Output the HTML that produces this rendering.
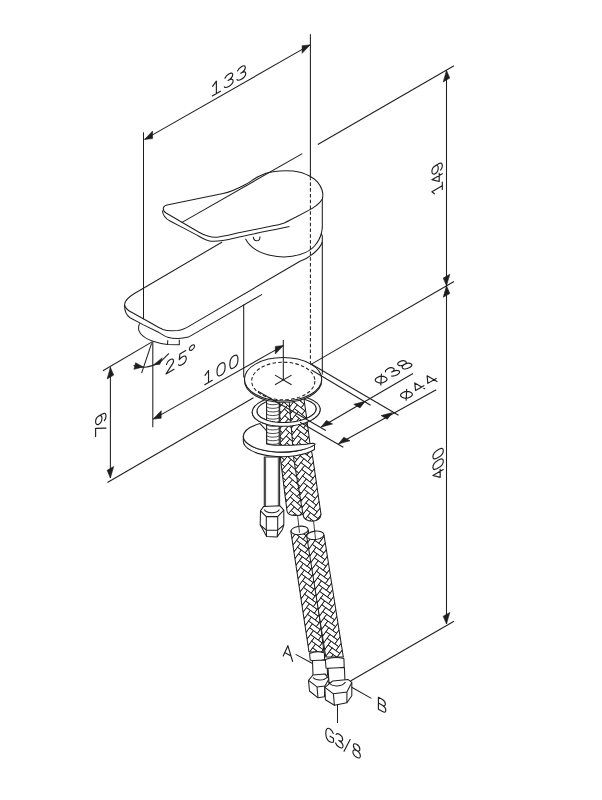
<!DOCTYPE html>
<html><head><meta charset="utf-8"><style>
html,body{margin:0;padding:0;background:#fff;}
svg{display:block;}
line,polyline,path,ellipse,circle,rect,polygon{fill:none;stroke:#1e1e1e;stroke-width:1.05;stroke-linecap:butt;stroke-linejoin:round;}
.th{stroke-width:1.3;}
.ah{fill:#1e1e1e;stroke:#1e1e1e;stroke-width:0.6;}
.da{stroke-dasharray:3.56 2.2;stroke-width:1.05;}
.gl{vector-effect:non-scaling-stroke;stroke-linecap:round;}
.wf{fill:#fff;}
.br{stroke-width:0.8;}
</style></head><body>
<svg width="602" height="800" viewBox="0 0 602 800">
<defs><clipPath id="hc1"><path d="M279.50,399.00 L280.60,460.00 L287.00,511.00 C287.50,517.00 304.50,517.00 305.00,511.00 L305.00,511.00 L298.60,460.00 L297.00,399.00 Z"/></clipPath><clipPath id="hc2"><path d="M289.00,399.00 L291.50,430.00 L293.90,460.00 L303.00,514.40 C303.50,523.40 320.50,523.40 321.00,514.40 L321.00,514.40 L312.50,456.00 L310.00,444.00 L306.50,417.00 L304.00,399.00 Z"/></clipPath><clipPath id="hc3"><path d="M290.80,531.00 L309.00,652.00 C309.50,652.00 323.50,652.00 324.00,652.00 L324.00,652.00 L308.30,530.00 Z"/></clipPath><clipPath id="hc4"><path d="M306.50,535.00 L325.80,657.00 C326.30,657.00 342.80,657.00 343.30,657.00 L343.30,657.00 L324.00,535.00 Z"/></clipPath></defs>
<ellipse cx="286.2" cy="410.8" rx="34" ry="15.4" transform="rotate(-3 286.2 410.8)"/>
<ellipse cx="286.6" cy="410.0" rx="29.7" ry="12.4" transform="rotate(-3 286.6 410)"/>
<rect class="wf" x="266.6" y="399" width="12.6" height="48"/>
<path d="M266.6,403.50 C269.5,405.20 276.3,405.20 279.2,403.50 M266.6,407.10 C269.5,408.80 276.3,408.80 279.2,407.10 M266.6,410.70 C269.5,412.40 276.3,412.40 279.2,410.70 M266.6,414.30 C269.5,416.00 276.3,416.00 279.2,414.30 M266.6,417.90 C269.5,419.60 276.3,419.60 279.2,417.90 M266.6,421.50 C269.5,423.20 276.3,423.20 279.2,421.50 M266.6,425.10 C269.5,426.80 276.3,426.80 279.2,425.10 M266.6,428.70 C269.5,430.40 276.3,430.40 279.2,428.70 M266.6,432.30 C269.5,434.00 276.3,434.00 279.2,432.30 M266.6,435.90 C269.5,437.60 276.3,437.60 279.2,435.90 M266.6,439.50 C269.5,441.20 276.3,441.20 279.2,439.50 M266.6,443.10 C269.5,444.80 276.3,444.80 279.2,443.10" class="br"/>
<path d="M279.50,399.00 L280.60,460.00 L287.00,511.00 C287.50,517.00 304.50,517.00 305.00,511.00 L305.00,511.00 L298.60,460.00 L297.00,399.00 Z" style="fill:#fff;stroke:none"/><g clip-path="url(#hc1)"><path d="M301.5,513.2L307.9,506M284.4,510.9L287.5,507.3M288.4,469.8L295.7,476.2M307.8,454.9L311,451.3M274,457.2L281.2,463.5M283,439.6L289.3,432.4M302.9,482.5L306,478.9M288.4,469.8L291.6,466.2M290.2,445.9L297.5,452.2M297,496.5L303.3,489.2M297.9,510L301.5,513.2M284.8,517.7L288,514.1M306.5,485.6L313.7,492M297.5,452.2L303.8,445M292.9,435.5L299.3,428.3M302,468.9L305.1,465.3M306,427.8L309.6,431M294.3,404.8L300.6,397.6M277.1,402.6L280.7,405.7M288,463.1L295.2,469.4M285.3,473.5L291.6,466.2M273.1,443.7L280.3,450M287.5,456.3L291.1,459.5M285.3,422.4L288.4,418.8M298.4,516.8L301.5,513.2M286.2,436L289.8,439.1M285.7,480.2L292,473M298.8,421.5L306,427.8M275.8,484.3L279,480.7M286.6,442.7L290.2,445.9M272.2,430.1L275.8,433.3M285.3,422.4L292.5,428.7M270.8,409.8L278,416.1M304.2,400.7L307.8,403.9M299.3,428.3L302.4,424.7M283.9,504.2L287.5,507.3M297.4,401.2L300.6,397.6M294.7,411.6L301.1,404.4M304.2,502.8L307.9,506M305.1,414.3L308.3,410.7M295.6,425.1L302,417.9M301.1,506.4L307.4,499.2M289.3,432.4L296.6,438.7M304.7,509.6L308.3,512.7M297.5,503.2L303.8,496M300.6,448.6L304.2,451.8M284.8,415.7L288.4,418.8M287.5,405.3L294.7,411.6M299.7,486.1L306,478.9M288.9,425.6L296.1,431.9M299.7,435.1L302.9,431.5M308.8,468.5L311.9,464.9M271.3,416.6L278.5,422.9M278,416.1L281.2,412.5M289.8,490.2L293.4,493.3M290.7,503.7L293.9,500.1M294.3,455.8L297.9,459M282.1,477.1L285.3,473.5M279.8,443.2L286.2,436M301.5,462.2L305.1,465.3M293,486.5L300.2,492.9M302.9,431.5L310.1,437.8M293.8,449.1L300.2,441.8M295.2,469.4L298.8,472.5M271.7,525.4L278.1,518.2M298.4,516.8L304.7,509.6M275.3,477.5L279,480.7M273.1,494.7L279.4,487.5M283.4,395.3L287.1,398.5M298.8,421.5L302,417.9M270.4,403L277.6,409.3M307.8,454.9L314.2,447.7M276.2,491.1L283.5,497.4M272.6,436.9L279.8,443.2M281.2,463.5L287.5,456.3M296.1,482.9L299.7,486.1M274.4,464L277.6,460.4M290.2,394.9L293.4,391.3M294.3,506.9L301.5,513.2M287.1,449.5L294.3,455.8M304.7,407.5L308.3,410.7M293.4,442.3L299.7,435.1M295.7,476.2L302,468.9M299.7,435.1L303.3,438.2M298.8,523.6L305.2,516.3M273.5,450.4L277.1,453.6M302,520L308.3,512.7M274.9,470.7L278.5,473.9M284.8,517.7L288.5,520.9M304.2,400.7L307.4,397.1M300.2,492.9L306.5,485.6M288.4,418.8L295.6,425.1M296.6,489.7L300.2,492.9M278.1,518.2L285.3,524.5M291.1,408.4L294.7,411.6M296.6,438.7L302.9,431.5M300.2,390.8L307.4,397.1M273.5,501.5L279.9,494.2M306,427.8L309.2,424.2M293.8,398L300.2,390.8M302.4,475.7L306,478.9M278.5,422.9L281.6,419.3M279.8,443.2L283.5,446.4M284.4,408.9L291.6,415.2M280.7,405.7L287.1,398.5M300.6,448.6L307.8,454.9M291.6,517.2L298.8,523.6M276.7,446.8L283.9,453.1M276.2,491.1L279.4,487.5M305.2,516.3L308.3,512.7M308.3,461.7L311.9,464.9M274.9,470.7L278,467.1M298.4,516.8L302,520M283,490.6L289.3,483.4M288,514.1L294.3,506.9M283.5,446.4L289.8,439.1M306,478.9L313.3,485.2M274,457.2L277.6,460.4M291.6,517.2L294.8,513.6M275.3,477.5L278.5,473.9M289.3,483.4L296.6,489.7M298.4,465.8L304.7,458.5M279.9,494.2L287.1,500.5M278,416.1L281.6,419.3M292,422L295.6,425.1M272.2,430.1L275.3,426.5M286.2,436L293.4,442.3M298.4,414.7L302,417.9M278.5,422.9L282.1,426M277.6,409.3L280.7,405.7M278.9,429.7L285.3,422.4M278,416.1L284.4,408.9M302.9,482.5L310.1,488.8M300.6,448.6L303.8,445M280.3,450L283.5,446.4M304.2,502.8L307.4,499.2M293.4,442.3L297,445.5M295.7,476.2L298.8,472.5M304.7,509.6L307.9,506M286.2,487L292.5,479.8M280.3,450L286.6,442.7M291.2,510.5L294.3,506.9M276.7,497.8L279.9,494.2M301.5,462.2L304.7,458.5M290.7,401.7L293.8,398M297.9,510L301.1,506.4M283.4,395.3L290.7,401.7M307.4,448.2L311,451.3M277.6,511.4L280.8,507.8M283,490.6L286.6,493.8M293.9,500.1L301.1,506.4M291.6,415.2L297.9,408M282.1,477.1L288.4,469.8M291.2,510.5L294.8,513.6M273.5,450.4L276.7,446.8M283.4,395.3L286.6,391.7M284.4,408.9L288,412M273.5,450.4L280.8,456.7M291.6,517.2L295.2,520.4M281.6,419.3L288,412M277.1,402.6L280.3,398.9M298.4,414.7L301.5,411.1M297.4,401.2L301.1,404.4M282.1,426L288.4,418.8M276.7,395.8L280.3,398.9M280.8,456.7L284.4,459.9M302,468.9L309.2,475.3M302.4,475.7L305.6,472.1M297.9,510L304.2,502.8M288.4,469.8L292,473M302.4,424.7L309.6,431M274.9,521.8L281.2,514.5M274.4,464L278,467.1M292.5,479.8L299.7,486.1M300.2,441.8L307.4,448.2M297.5,503.2L300.6,499.6M301.5,462.2L308.8,468.5M273.5,399.4L280.7,405.7M294.8,462.6L298.4,465.8M297.9,459L304.2,451.8M283.9,504.2L290.2,496.9M275.8,484.3L279.4,487.5M292.5,428.7L296.1,431.9M277.2,504.6L280.3,501M287.1,500.5L293.4,493.3M284.8,415.7L288,412M287.1,449.5L290.7,452.7M294.8,462.6L301.1,455.4M275.3,426.5L282.6,432.8M306.5,434.6L312.8,427.4M305.6,421.1L308.7,417.5M300.6,397.6L307.8,403.9M279.4,487.5L286.6,493.8M290.2,496.9L297.5,503.2M308.8,468.5L312.4,471.6M289.8,439.1L297,445.5M293.8,449.1L297.5,452.2M301.1,455.4L304.7,458.5M289.8,490.2L297,496.5M308.3,461.7L311.5,458.1M276.7,497.8L280.3,501M292.5,428.7L295.6,425.1M281.2,514.5L288.5,520.9M274.5,515L280.8,507.8M296.1,482.9L302.4,475.7M278.9,429.7L282.1,426M288.5,520.9L294.8,513.6M281.2,463.5L284.4,459.9M279.8,443.2L283,439.6M291.1,408.4L297.4,401.2M284.8,517.7L291.2,510.5M272.2,430.1L279.4,436.4M274,508.2L280.3,501M302,468.9L305.6,472.1M288.9,476.6L296.1,482.9M295.2,418.4L301.5,411.1M303.3,489.2L310.6,495.6M304.2,451.8L311.5,458.1M291.6,415.2L295.2,418.4M283.5,497.4L287.1,500.5M283.5,497.4L286.6,493.8M290.2,496.9L293.9,500.1M288,463.1L291.6,466.2M307.8,454.9L311.5,458.1M271.7,474.4L278,467.1M285.3,422.4L288.9,425.6M282.6,432.8L288.9,425.6M277.1,453.6L284.4,459.9M276.7,395.8L279.8,392.2M286.6,442.7L289.8,439.1M295.2,469.4L298.4,465.8M277.6,511.4L284.8,517.7M303.8,496L311,502.3M295.7,476.2L299.3,479.3M277.1,402.6L283.4,395.3M273.1,443.7L276.2,440M275.8,484.3L283,490.6M280.3,398.9L286.6,391.7M307.4,397.1L313.7,389.9M300.2,441.8L303.8,445M275.3,477.5L282.6,483.8M290.7,452.7L297.9,459M280.8,507.8L288,514.1M286.6,442.7L293.8,449.1M272.6,436.9L276.2,440M291.1,408.4L294.3,404.8M281.2,412.5L287.5,405.3M284.8,466.7L291.1,459.5M287.5,507.3L293.9,500.1M301.1,404.4L308.3,410.7M297,445.5L303.3,438.2M279.4,436.4L285.7,429.2M287.1,398.5L294.3,404.8M289.3,483.4L292.5,479.8M292,473L299.3,479.3M291.1,459.5L298.4,465.8M293.4,442.3L296.6,438.7M279.4,436.4L282.6,432.8M277.2,504.6L280.8,507.8M277.6,409.3L283.9,402.1M292.9,435.5L296.1,431.9M304.7,509.6L311.9,515.9M278.5,473.9L285.7,480.2M287.5,456.3L290.7,452.7M306.5,434.6L309.6,431M307.4,448.2L313.7,440.9M298.8,472.5L305.1,465.3M285.7,429.2L292.9,435.5M291.6,415.2L294.7,411.6M303.8,445L311,451.3M292,422L298.4,414.7M282.6,483.8L286.2,487M300.6,499.6L307,492.4M307.4,448.2L310.6,444.5M299.7,435.1L306.9,441.4M280.3,501L287.5,507.3M272.6,436.9L275.8,433.3M293.4,493.3L300.6,499.6M297.9,408L305.1,414.3M279,480.7L286.2,487M270.8,460.8L277.1,453.6M303.8,496L307.4,499.2M297.4,401.2L304.7,407.5M278.9,429.7L282.6,432.8M304.2,400.7L310.5,393.5M285.7,429.2L289.3,432.4M305.1,414.3L311.4,407.1M271.3,467.6L277.6,460.4M307.4,499.2L314.6,505.5M272.6,487.9L279,480.7M274.9,419.7L282.1,426M278.5,422.9L284.8,415.7M302,417.9L309.2,424.2M283.9,504.2L287.1,500.5M289.3,483.4L293,486.5M296.6,489.7L302.9,482.5M290.7,503.7L297.9,510M306.9,441.4L310.6,444.5M272.2,481.1L278.5,473.9M278.1,518.2L281.2,514.5M285.7,429.2L288.9,425.6M309.2,475.3L312.8,478.4M290.2,496.9L293.4,493.3M303.3,489.2L306.5,485.6M282.1,477.1L285.7,480.2M284.8,415.7L292,422M280.8,456.7L287.1,449.5M297,394.4L304.2,400.7M285.3,524.5L288.5,520.9M281.7,470.3L285.3,473.5M283.9,402.1L291.1,408.4M274.4,464L281.7,470.3M284.4,459.9L290.7,452.7M306.9,441.4L310.1,437.8M279.4,436.4L283,439.6M294.3,455.8L297.5,452.2M306.9,441.4L313.3,434.2M277.2,504.6L284.4,510.9M304.7,407.5L311,400.3M280.8,456.7L283.9,453.1M283,490.6L286.2,487M297.9,408L301.1,404.4M297,496.5L300.6,499.6M300.2,441.8L303.3,438.2M301.1,455.4L304.2,451.8M305.1,414.3L308.7,417.5M305.6,421.1L311.9,413.8M299.3,428.3L306.5,434.6M288.9,476.6L292,473M292.1,524L295.2,520.4M274.9,470.7L282.1,477.1M305.2,516.3L308.8,519.5M288,463.1L291.1,459.5M305.6,523.1L308.8,519.5M303.3,438.2L310.6,444.5M297,496.5L300.2,492.9M270.4,505.1L276.7,497.8M301.1,455.4L308.3,461.7M294.8,462.6L297.9,459M292.9,435.5L296.6,438.7M277.6,409.3L281.2,412.5M271.7,423.3L278.9,429.7M307.8,403.9L314.2,396.7M274,457.2L277.1,453.6M273.1,443.7L276.7,446.8M296.1,482.9L299.3,479.3M286.2,436L289.3,432.4M270.4,454L276.7,446.8M274,406.2L281.2,412.5M273.1,392.6L280.3,398.9M304.7,458.5L311.9,464.9M291.6,466.2L298.8,472.5M284.4,510.9L290.7,503.7M293.8,449.1L297,445.5M282.6,483.8L285.7,480.2M290.7,503.7L294.3,506.9M271.3,518.6L277.6,511.4M281.7,470.3L284.8,466.7M270.8,511.8L277.2,504.6M286.6,391.7L293.8,398M283.9,402.1L287.1,398.5M305.6,421.1L309.2,424.2M290.7,401.7L297,394.4M301.5,411.1L308.7,417.5M298.8,421.5L302.4,424.7M298.4,414.7L305.6,421.1M289.8,490.2L293,486.5M298.8,523.6L302,520M303.8,394L307.4,397.1M280.3,450L283.9,453.1M305.1,465.3L312.4,471.6M291.2,510.5L298.4,516.8M277.6,460.4L284.8,466.7M286.6,493.8L293,486.5M284.4,510.9L288,514.1M299.3,479.3L305.6,472.1M287.1,449.5L290.2,445.9M278,467.1L285.3,473.5M283.9,402.1L287.5,405.3M309.2,475.3L312.4,471.6M283.5,497.4L289.8,490.2M303.3,489.2L307,492.4M287.5,456.3L294.8,462.6M276.7,497.8L283.9,504.2M282.6,483.8L288.9,476.6M278.1,518.2L281.7,521.3M295.2,469.4L301.5,462.2M307,492.4L314.2,498.7M297,394.4L300.6,397.6M296.1,431.9L302.4,424.7M306.5,434.6L310.1,437.8M276.2,440L283.5,446.4M281.2,463.5L284.8,466.7M305.2,516.3L312.4,522.7M285.3,524.5L291.6,517.2M305.6,472.1L312.8,478.4M277.6,511.4L281.2,514.5M304.2,502.8L311.5,509.1M297.5,503.2L301.1,506.4M302.4,475.7L309.7,482M299.3,428.3L302.9,431.5M284.4,408.9L287.5,405.3M275.8,433.3L283,439.6M276.2,491.1L279.9,494.2M290.2,394.9L293.8,398M292.5,428.7L298.8,421.5M297.9,408L301.5,411.1M290.7,401.7L294.3,404.8M288.9,476.6L292.5,479.8M288,412L295.2,418.4M294.8,513.6L302,520M292,422L295.2,418.4M303.8,496L307,492.4M296.6,489.7L299.7,486.1M294.3,455.8L300.6,448.6M304.7,407.5L307.8,403.9M271.7,423.3L275.3,426.5M269.9,396.2L277.1,402.6M283.9,453.1L290.2,445.9M306,427.8L312.4,420.6M281.7,470.3L288,463.1M274.4,412.9L281.6,419.3M302.9,482.5L306.5,485.6" style="stroke-width:0.85"/></g><path d="M279.50,399.00 L280.60,460.00 L287.00,511.00 C287.50,517.00 304.50,517.00 305.00,511.00 L305.00,511.00 L298.60,460.00 L297.00,399.00 Z"/>
<path d="M289.00,399.00 L291.50,430.00 L293.90,460.00 L303.00,514.40 C303.50,523.40 320.50,523.40 321.00,514.40 L321.00,514.40 L312.50,456.00 L310.00,444.00 L306.50,417.00 L304.00,399.00 Z" style="fill:#fff;stroke:none"/><g clip-path="url(#hc2)"><path d="M282.3,478.4L288.3,470.9M324.6,432.3L328.4,435.3M303.1,452L310.6,457.9M315,522.3L318.8,525.3M284.5,467.9L290.4,460.4M312.3,471.4L318.2,463.8M280.1,403.5L287.6,409.4M311.7,495.4L314.7,491.6M317.9,433.1L320.8,429.3M323.8,425.6L326.7,421.8M290.1,429.6L296,422.1M298,466.3L303.9,458.7M291.2,467.1L298.8,473M297.1,459.6L303.1,452M294,518.1L296.9,514.3M283.9,406.5L291.4,412.4M315.8,529.1L321.8,521.5M314.6,406.2L320.5,398.6M307,400.2L314.6,406.2M283.5,515.9L291,521.8M307.7,461.7L311.4,464.7M292.5,449.9L296.3,452.8M302.8,421.3L308.7,413.7M294.8,524.8L297.8,521M297.4,490.3L300.4,486.5M310.1,481.9L313.1,478.1M319.7,391.9L327.3,397.8M289.3,422.9L293.1,425.9M296,422.1L299,418.3M287.2,518.9L290.2,515.1M298.8,473L304.7,465.5M310.3,427.2L313.3,423.4M321.8,521.5L325.5,524.5M315,522.3L318,518.6M322,466.8L327.9,459.2M312.1,526.1L319.6,532M296.8,428.8L304.4,434.7M283.4,430.5L290.9,436.4M296.1,507.5L303.7,513.5M283.4,430.5L286.3,426.7M308.8,499.2L316.3,505.1M301.5,524L305.3,526.9M304.9,410.7L310.8,403.2M288.3,470.9L291.2,467.1M317.9,433.1L321.6,436.1M303.3,397.3L309.2,389.7M304.4,434.7L308.2,437.7M302.2,445.3L309.8,451.2M323.6,480.3L327.4,483.2M293.4,456.6L297.1,459.6M304.2,489.5L311.7,495.4M313,392.7L316.7,395.6M311.1,433.9L318.7,439.8M297.3,404.8L304.9,410.7M313.4,508.9L316.3,505.1M310.1,481.9L313.9,484.9M296.6,483.5L300.4,486.5M317.7,487.8L325.2,493.8M320.8,429.3L326.7,421.8M289.4,508.4L295.3,500.8M314.6,406.2L317.6,402.4M285.8,450.7L289.6,453.6M291.5,497.8L299.1,503.8M279.7,513L287.2,518.9M293.7,487.3L301.2,493.2M289.3,422.9L295.2,415.3M315.4,412.9L318.4,409.1M304.4,434.7L307.3,431M300.7,517.2L303.7,513.5M293.6,401.9L296.5,398.1M296,422.1L303.6,428M295.2,415.3L299,418.3M297.6,435.6L305.2,441.5M280.2,489L287.8,494.9M308.3,523.2L312.1,526.1M305.7,417.5L311.6,409.9M310.1,481.9L316,474.4M281.7,417L285.5,419.9M317,426.4L320,422.6M290.9,436.4L296.8,428.8M300.1,455.8L303.9,458.7M321.3,405.3L328.9,411.3M286,395.9L289,392.2M282,447.7L287.9,440.2M307.9,407L310.8,403.2M321.3,405.3L324.3,401.6M301.7,469.3L309.3,475.2M302.4,530.7L305.3,526.9M281,495.7L288.6,501.6M299.9,510.5L302.9,506.7M286.9,488.1L292.9,480.6M317.6,402.4L323.5,394.8M284.2,437.2L287.1,433.4M284.8,498.7L288.6,501.6M309.3,475.2L313.1,478.1M286,395.9L289.8,398.9M305.5,472.2L313.1,478.1M309.3,475.2L315.2,467.6M307,400.2L310.8,403.2M280.4,434.2L286.3,426.7M323.3,449.5L329.2,442M300.7,517.2L306.6,509.7M316.8,481.1L320.6,484.1M301.5,524L307.5,516.4M306,448.2L311.9,440.7M294,518.1L301.5,524M318.7,439.8L322.5,442.8M312.8,447.4L315.7,443.6M309.8,451.2L315.7,443.6M281.8,502.4L289.4,508.4M296.8,428.8L300.6,431.8M295.8,476.8L298.8,473M299.1,503.8L302,500M307.9,407L311.6,409.9M317.7,487.8L321.4,490.8M282.5,423.7L286.3,426.7M286.3,426.7L293.9,432.6M301.1,407.8L304.9,410.7M324.4,487L327.4,483.2M320.5,398.6L328.1,404.5M315.5,498.4L321.4,490.8M313.6,454.1L317.4,457.1M318.5,494.6L321.4,490.8M319.2,415.9L325.1,408.3M293.2,511.3L296.9,514.3M286.4,512.1L289.4,508.4M289.6,453.6L297.1,459.6M321.1,460.1L327.1,452.5M296.9,514.3L304.5,520.2M294.4,408.6L297.3,404.8M316,474.4L319,470.6M322,466.8L325.7,469.8M300.1,455.8L303.1,452M286.6,457.4L290.4,460.4M303.6,428L309.5,420.4M303.6,428L306.5,424.2M301.4,438.5L309,444.4M305,496.2L312.6,502.1M310.9,488.7L313.9,484.9M291.5,497.8L294.5,494.1M281.2,441L287.1,433.4M322.5,442.8L328.4,435.3M305.8,502.9L308.8,499.2M322.2,412.1L325.9,415M281.3,526.4L288.9,532.4M305.3,526.9L311.2,519.4M287.1,433.4L294.7,439.3M299.9,510.5L305.8,502.9M318.7,439.8L324.6,432.3M312.8,447.4L316.5,450.4M305.2,441.5L308.2,437.7M283,399.7L290.6,405.6M302.6,476L310.1,481.9M284,491.9L289.9,484.4M293.2,511.3L296.1,507.5M295.8,476.8L301.7,469.3M300.3,401L306.2,393.5M319.5,446.6L322.5,442.8M321.1,460.1L324.9,463M291.5,497.8L295.3,500.8M311.6,409.9L319.2,415.9M293.4,456.6L299.3,449M289.9,484.4L297.4,490.3M299.9,510.5L303.7,513.5M314.6,406.2L318.4,409.1M298.2,411.6L305.7,417.5M313.3,423.4L320.8,429.3M300.3,401L303.3,397.3M310.3,427.2L314.1,430.1M286.8,402.7L290.6,405.6M281.3,526.4L285.1,529.4M303.6,428L307.3,431M309.1,529.9L312.1,526.1M308.7,413.7L311.6,409.9M310,396.5L317.6,402.4M285.6,505.4L289.4,508.4M289.1,477.6L292,473.8M310.4,512.6L318,518.6M289.9,484.4L292.9,480.6M305.8,502.9L313.4,508.9M303.4,482.7L306.3,479M323.1,504.3L330.6,510.2M290.4,460.4L298,466.3M310.3,427.2L317.9,433.1M301.9,414.5L304.9,410.7M304.5,520.2L310.4,512.6M306.2,393.5L313.8,399.4M281.7,417L289.3,422.9M315.2,467.6L322.8,473.5M314.2,515.6L317.2,511.8M311.9,440.7L314.9,436.9M319.3,501.3L326.9,507.2M322.8,473.5L328.7,466M300.9,462.5L303.9,458.7M315.2,467.6L319,470.6M308.7,413.7L316.2,419.6M301.7,469.3L304.7,465.5M282.6,509.2L290.2,515.1M316.3,505.1L322.3,497.5M293.4,456.6L296.3,452.8M302.8,421.3L306.5,424.2M297.4,490.3L301.2,493.2M303.4,482.7L307.1,485.7M322.8,473.5L325.7,469.8M322,466.8L324.9,463M312.6,502.1L316.3,505.1M289.8,398.9L295.7,391.3M305.2,441.5L311.1,433.9M287.8,494.9L293.7,487.3M284,491.9L286.9,488.1M292.7,395.1L295.7,391.3M319,470.6L326.5,476.5M295.5,446.1L301.4,438.5M309,444.4L314.9,436.9M308.3,523.2L311.2,519.4M292.3,504.6L299.9,510.5M283.2,485.2L286.1,481.4M292.3,504.6L295.3,500.8M285.3,474.7L291.2,467.1M301.1,407.8L304.1,404M314.9,436.9L322.5,442.8M292.5,449.9L298.5,442.3M283.4,430.5L287.1,433.4M284.8,498.7L290.7,491.1M311.1,433.9L314.9,436.9M323.8,425.6L327.6,428.5M288.3,470.9L292,473.8M308.5,468.4L311.4,464.7M301.9,414.5L305.7,417.5M321.4,490.8L329,496.7M283.2,485.2L289.1,477.6M304.1,404L310,396.5M284.3,522.7L291.8,528.6M284.2,437.2L287.9,440.2M299,418.3L306.5,424.2M321.8,521.5L324.7,517.8M314.2,515.6L318,518.6M283.7,461.2L289.6,453.6M300.9,462.5L304.7,465.5M316,474.4L319.8,477.3M300.4,486.5L306.3,479M294.5,494.1L302,500M288.9,532.4L294.8,524.8M299.5,394.3L303.3,397.3M314.2,515.6L320.1,508.1M311.7,495.4L317.7,487.8M300.9,462.5L308.5,468.4M308.5,468.4L312.3,471.4M285.8,450.7L293.4,456.6M308.5,468.4L314.4,460.9M294,518.1L297.8,521M320.9,514.8L324.7,517.8M286.4,512.1L290.2,515.1M320.3,453.3L323.3,449.5M308.7,413.7L312.5,416.7M314.7,491.6L320.6,484.1M281.5,471.7L287.4,464.2M319.6,532L325.5,524.5M307.5,516.4L315,522.3M280.7,465L286.6,457.4M306,448.2L309,444.4M302.9,506.7L308.8,499.2M311.2,519.4L318.8,525.3M303.9,458.7L311.4,464.7M321.3,405.3L325.1,408.3M299.3,449L302.2,445.3M291.4,412.4L297.3,404.8M298.3,497L304.2,489.5M319.5,446.6L325.4,439M285.8,450.7L288.8,446.9M320,422.6L325.9,415M311.7,495.4L315.5,498.4M312.6,502.1L318.5,494.6M314.4,460.9L322,466.8M317,426.4L320.8,429.3M310.6,457.9L316.5,450.4M284.7,413.2L292.2,419.1M287.4,464.2L291.2,467.1M297.6,435.6L300.6,431.8M318.7,439.8L321.6,436.1M288.1,525.6L294,518.1M291.7,443.1L295.5,446.1M320.6,484.1L328.2,490M315.4,412.9L321.3,405.3M309.5,420.4L312.5,416.7M321.1,460.1L324.1,456.3M313.4,508.9L317.2,511.8M299.3,449L303.1,452M291,521.8L296.9,514.3M307.1,485.7L314.7,491.6M292.7,395.1L300.3,401M285,443.9L292.5,449.9M319.3,501.3L322.3,497.5M313.4,508.9L319.3,501.3M309.5,420.4L317,426.4M293.9,432.6L299.8,425M282.8,454.5L288.8,446.9M318.2,463.8L325.7,469.8M299.3,449L306.8,455M317.2,511.8L323.1,504.3M320.1,508.1L327.7,514M293.2,511.3L300.7,517.2M302,500L308,492.4M317.9,433.1L323.8,425.6M318,518.6L323.9,511M307.3,431L313.3,423.4M316.2,419.6L322.2,412.1M292.2,419.1L298.2,411.6M323.6,480.3L329.5,472.7M285.6,505.4L291.5,497.8M315.2,467.6L318.2,463.8M282.2,393L289.8,398.9M286.6,457.4L294.2,463.3M295.7,391.3L303.3,397.3M317,426.4L323,418.8M296.5,398.1L304.1,404M288.5,416.2L294.4,408.6M290.1,429.6L293.9,432.6M305.2,441.5L309,444.4M320.3,453.3L324.1,456.3M322.3,497.5L329.8,503.5M307.9,407L315.4,412.9M286.4,512.1L292.3,504.6M304.7,465.5L312.3,471.4M287.6,409.4L290.6,405.6M282.3,478.4L286.1,481.4M306.6,509.7L314.2,515.6M302.4,530.7L308.3,523.2M280.5,519.7L288.1,525.6M282.5,423.7L290.1,429.6M314.4,460.9L317.4,457.1M316.5,450.4L324.1,456.3M300.3,401L304.1,404M315.7,443.6L323.3,449.5M300.6,431.8L308.2,437.7M306.8,455L312.8,447.4M302.8,421.3L305.7,417.5M316,474.4L323.6,480.3M296,422.1L299.8,425M294.8,524.8L298.6,527.8M297.6,435.6L301.4,438.5M320.1,508.1L323.1,504.3M306.6,509.7L309.6,505.9M287.4,464.2L295,470.1M325.4,439L328.4,435.3M293.1,425.9L299,418.3M311.9,440.7L315.7,443.6M315.4,412.9L319.2,415.9M301.1,407.8L307,400.2M299.1,503.8L305,496.2M320.9,514.8L323.9,511M313.1,478.1L319,470.6M314.4,460.9L318.2,463.8M294.7,439.3L300.6,431.8M307.5,516.4L310.4,512.6M285,443.9L287.9,440.2M288.8,446.9L296.3,452.8M298.3,497L302,500M300.1,455.8L307.7,461.7M298.5,442.3L302.2,445.3M295.3,500.8L302.9,506.7M286.8,402.7L289.8,398.9M301.5,524L304.5,520.2M306.2,393.5L310,396.5M322.8,473.5L326.5,476.5M324.6,432.3L327.6,428.5M312.5,416.7L320,422.6M307.7,461.7L313.6,454.1M312.8,447.4L320.3,453.3M290.9,436.4L293.9,432.6M320.5,398.6L323.5,394.8M310.8,403.2L318.4,409.1M289.3,422.9L292.2,419.1M292.3,504.6L296.1,507.5M309.6,505.9L317.2,511.8M293.6,401.9L301.1,407.8M311.1,433.9L314.1,430.1M290.9,436.4L294.7,439.3M313.8,399.4L317.6,402.4M320.1,508.1L323.9,511M284,491.9L287.8,494.9M307.7,461.7L310.6,457.9M300.7,517.2L304.5,520.2M313.6,454.1L321.1,460.1M313.8,399.4L319.7,391.9M306.3,479L313.9,484.9M303.4,482.7L310.9,488.7M288.1,525.6L291.8,528.6M307.5,516.4L311.2,519.4M291.7,443.1L294.7,439.3M298.5,442.3L306,448.2M291.8,528.6L297.8,521M308.2,437.7L314.1,430.1M281.7,417L284.7,413.2M280.9,410.2L288.5,416.2M304.2,489.5L308,492.4M302.6,476L305.5,472.2M288.6,501.6L294.5,494.1M289.1,477.6L292.9,480.6M288.1,525.6L291,521.8M285.5,419.9L293.1,425.9M286.1,481.4L292,473.8M318.5,494.6L322.3,497.5M284.2,437.2L291.7,443.1M318.5,494.6L326,500.5M322.2,412.1L329.7,418M295,470.1L298,466.3M322.2,412.1L325.1,408.3M316.8,481.1L319.8,477.3M304.2,489.5L307.1,485.7M313.9,484.9L319.8,477.3M320.5,398.6L324.3,401.6M318.4,409.1L324.3,401.6M290.7,491.1L293.7,487.3M282.5,423.7L285.5,419.9M308.3,523.2L315.8,529.1M292.7,395.1L296.5,398.1M312.6,502.1L315.5,498.4M287.6,409.4L293.6,401.9M294.8,524.8L302.4,530.7M305,496.2L308,492.4M319.8,477.3L327.4,483.2M283.2,485.2L286.9,488.1M320.9,514.8L328.5,520.7M288.5,416.2L292.2,419.1M313.8,399.4L316.7,395.6M308,492.4L315.5,498.4M285,443.9L288.8,446.9M317.4,457.1L324.9,463M301.9,414.5L307.9,407M316.8,481.1L324.4,487M302.6,476L306.3,479M303.7,513.5L309.6,505.9M292,473.8L299.6,479.8M306.6,509.7L310.4,512.6M289.1,477.6L296.6,483.5M287.2,518.9L291,521.8M286.8,402.7L292.7,395.1M316.2,419.6L320,422.6M309.5,420.4L313.3,423.4M295.2,415.3L298.2,411.6M287.2,518.9L293.2,511.3M304.4,434.7L310.3,427.2M322.6,528.3L325.5,524.5M279.3,396.8L286.8,402.7M321.6,436.1L327.6,428.5M310.9,488.7L314.7,491.6M297.4,490.3L303.4,482.7M281.5,471.7L284.5,467.9M323,418.8L326.7,421.8M311.9,440.7L319.5,446.6M294.4,408.6L301.9,414.5M318.8,525.3L324.7,517.8M290.7,491.1L294.5,494.1M294.2,463.3L298,466.3M323,418.8L330.5,424.7M301.2,493.2L307.1,485.7M310.9,488.7L316.8,481.1M287.4,464.2L290.4,460.4M323.6,480.3L326.5,476.5M299.1,503.8L302.9,506.7M290.6,405.6L296.5,398.1M319.7,391.9L323.5,394.8M284.8,498.7L287.8,494.9M320.3,453.3L326.2,445.8M293.6,401.9L297.3,404.8M309.3,475.2L312.3,471.4M296.6,483.5L299.6,479.8M298.5,442.3L301.4,438.5M290.1,429.6L293.1,425.9M287.6,409.4L291.4,412.4M288.5,416.2L291.4,412.4M325.2,493.8L328.2,490M294.2,463.3L297.1,459.6M313.6,454.1L316.5,450.4M288.3,470.9L295.8,476.8M286.6,457.4L289.6,453.6M295.2,415.3L302.8,421.3M305,496.2L308.8,499.2M306,448.2L309.8,451.2M306.8,455L309.8,451.2M321.8,521.5L329.3,527.5M281.5,471.7L285.3,474.7M299.6,479.8L305.5,472.2M316.2,419.6L319.2,415.9M290.7,491.1L298.3,497M311.4,464.7L317.4,457.1M290.2,515.1L296.1,507.5M319.5,446.6L323.3,449.5M298.3,497L301.2,493.2M297.8,521L305.3,526.9M294.2,463.3L300.1,455.8M279.4,482.2L286.9,488.1M306.8,455L310.6,457.9M319.3,501.3L323.1,504.3M296.6,483.5L302.6,476M292.9,480.6L300.4,486.5M305.8,502.9L309.6,505.9M282.3,478.4L285.3,474.7M296.8,428.8L299.8,425M294.4,408.6L298.2,411.6M317.7,487.8L320.6,484.1M291.7,443.1L297.6,435.6M299.8,425L307.3,431M289.9,484.4L293.7,487.3M314.1,430.1L321.6,436.1M285.6,505.4L288.6,501.6M292.5,449.9L295.5,446.1M307,400.2L310,396.5M315,522.3L320.9,514.8M295,470.1L298.8,473M296.3,452.8L302.2,445.3M295,470.1L300.9,462.5M323,418.8L325.9,415M287.9,440.2L295.5,446.1M306.5,424.2L312.5,416.7M324.4,487L328.2,490M315.8,529.1L318.8,525.3M295.8,476.8L299.6,479.8M301.7,469.3L305.5,472.2" style="stroke-width:0.85"/></g><path d="M289.00,399.00 L291.50,430.00 L293.90,460.00 L303.00,514.40 C303.50,523.40 320.50,523.40 321.00,514.40 L321.00,514.40 L312.50,456.00 L310.00,444.00 L306.50,417.00 L304.00,399.00 Z"/>
<path class="wf" d="M243.30,436.30 A38.7,15.8 0 0 0 314.50,444.88 L314.50,449.48 A38.7,15.8 0 0 1 243.30,440.90 Z"/>
<path class="wf" d="M266.6,431 C264.5,428.5 262.5,426.6 260.0,423.60 A38.7,15.8 0 0 0 243.30,436.30 A38.7,15.8 0 0 0 314.50,444.88 C315.6,444.38 315,443.4 312.5,443.2 C305,444.6 293,445.4 280,445.3 C274,445.2 269,444.6 266.6,444 Z"/>
<path d="M319.95,407.69 L320.15,408.95 L320.11,410.23 L319.84,411.52 L319.34,412.79 L318.61,414.06 L317.66,415.30 L316.49,416.51 L315.11,417.68 L313.54,418.81 L311.78,419.88 L309.84,420.89 L307.74,421.82 L305.49,422.69 L303.11,423.47 L300.61,424.16 L298.02,424.76 L295.34,425.27 L292.60,425.67 L289.81,425.98 L287.01,426.18 L284.19,426.27 L281.39,426.26 L278.62,426.14 L275.91,425.92 L273.26,425.59 L270.71,425.16 L268.26,424.64 L265.93,424.01 L263.74,423.30 L261.71,422.50 L259.85,421.62 L258.16,420.67 L256.67,419.65 L255.38,418.56 L254.31,417.43 L253.45,416.25 L252.82,415.03 L252.41,413.78 L252.24,412.51 L252.31,411.23 L257.00,410.47 L256.94,411.50 L257.08,412.52 L257.43,413.52 L257.98,414.50 L258.72,415.45 L259.66,416.36 L260.78,417.23 L262.08,418.05 L263.55,418.81 L265.17,419.51 L266.94,420.15 L268.85,420.71 L270.88,421.21 L273.02,421.62 L275.25,421.96 L277.56,422.21 L279.93,422.38 L282.34,422.47 L284.79,422.47 L287.25,422.38 L289.70,422.21 L292.14,421.96 L294.53,421.62 L296.87,421.20 L299.14,420.71 L301.32,420.14 L303.40,419.50 L305.37,418.80 L307.21,418.04 L308.91,417.22 L310.45,416.35 L311.83,415.44 L313.03,414.49 L314.06,413.51 L314.89,412.51 L315.54,411.49 L315.98,410.46 L316.22,409.42 L316.26,408.39 L316.09,407.37 Z" style="fill:#fff;stroke:none"/>
<polyline points="319.95,407.69 320.15,408.95 320.11,410.23 319.84,411.52 319.34,412.79 318.61,414.06 317.66,415.30 316.49,416.51 315.11,417.68 313.54,418.81 311.78,419.88 309.84,420.89 307.74,421.82 305.49,422.69 303.11,423.47 300.61,424.16 298.02,424.76 295.34,425.27 292.60,425.67 289.81,425.98 287.01,426.18 284.19,426.27 281.39,426.26 278.62,426.14 275.91,425.92 273.26,425.59 270.71,425.16 268.26,424.64 265.93,424.01 263.74,423.30 261.71,422.50 259.85,421.62 258.16,420.67 256.67,419.65 255.38,418.56 254.31,417.43 253.45,416.25 252.82,415.03 252.41,413.78 252.24,412.51 252.31,411.23"/>
<polyline points="316.09,407.37 316.26,408.39 316.22,409.42 315.98,410.46 315.54,411.49 314.89,412.51 314.06,413.51 313.03,414.49 311.83,415.44 310.45,416.35 308.91,417.22 307.21,418.04 305.37,418.80 303.40,419.50 301.32,420.14 299.14,420.71 296.87,421.20 294.53,421.62 292.14,421.96 289.70,422.21 287.25,422.38 284.79,422.47 282.34,422.47 279.93,422.38 277.56,422.21 275.25,421.96 273.02,421.62 270.88,421.21 268.85,420.71 266.94,420.15 265.17,419.51 263.55,418.81 262.08,418.05 260.78,417.23 259.66,416.36 258.72,415.45 257.98,414.50 257.43,413.52 257.08,412.52 256.94,411.50 257.00,410.47"/>
<rect class="wf" x="264.3" y="457" width="15.3" height="51"/>
<path d="M265.6,457.5 V508 M278.3,457.5 V508" style="stroke-width:0.8"/>
<path d="M260.5,510.8 L263.7,506.4 L280,505.8 L283.8,510.2 L283.8,525 L282.3,529.7 L277.1,536.9 L266.6,536.6 L262.6,529 L260.2,525 Z" class="wf"/>
<path d="M260.5,510.8 L266.3,516.6 L277.7,516.6 L283.8,510.2 M266.3,516.6 L266.3,530.2 L266.6,536.6 M277.7,516.6 L277.7,530.2 L277.1,536.9 M260.2,525 L266.3,530.2 L277.7,530.2 L283.8,525 M264.3,509.5 C266,513.5 277,514 279.4,509.5"/>
<path d="M290.80,531.00 L309.00,652.00 C309.50,652.00 323.50,652.00 324.00,652.00 L324.00,652.00 L308.30,530.00 Z" style="fill:#fff;stroke:none"/><g clip-path="url(#hc3)"><path d="M303.5,587.4L307.4,590.3M284.4,597.2L288.3,600M315.5,644L323.2,649.7M294.3,640.3L300,632.6M294.8,575L298.6,577.9M321.2,636.3L326.9,628.5M321,612.3L323.8,608.4M320.6,564.3L326.3,556.5M287.1,569.3L289.9,565.5M303.3,563.4L311.1,569.1M294.8,575L300.5,567.3M321.3,660.3L327,652.5M309.6,627.7L312.4,623.9M309.9,538.4L313.7,541.3M309.2,579.7L314.9,572M305.5,600.9L313.3,606.6M297.5,547.2L300.3,543.3M306.4,583.6L314.1,589.3M323.7,584.4L326.5,580.5M290.7,548.2L294.6,551M316.3,626.7L320.2,629.6M303.7,611.4L309.4,603.7M315.8,554.7L323.5,560.4M295.1,623L302.9,628.7M289.4,630.7L295.1,623M317.6,544.1L323.3,536.4M319,598.8L326.7,604.5M308.6,621L316.3,626.7M283.6,614.5L291.3,620.2M288.4,624L294.1,616.3M305.2,552.9L310.9,545.1M295.4,533.7L303.2,539.4M298.5,553.9L306.2,559.6M316.8,561.4L324.5,567.1M322,619L325.9,621.8M295.1,623L298,619.2M307.6,614.3L315.3,620M319.6,557.6L323.5,560.4M302.5,580.7L310.2,586.4M290.3,613.5L296,605.7M308.2,573L311.1,569.1M298.8,601.9L301.7,598M323.3,536.4L326.2,532.5M323.2,649.7L328.9,642M309.8,651.7L315.5,644M321,612.3L324.8,615.1M318,592.1L325.7,597.8M282.7,631.8L290.4,637.5M283.9,525.2L291.6,530.9M320,605.6L327.7,611.3M325.7,597.8L331.4,590.1M284.7,645.2L287.6,641.3M294.4,527L298.3,529.9M304.7,618.1L310.4,610.4M292.5,650.9L296.3,653.7M297.8,595.2L300.7,591.3M311.2,593.1L315.1,596M305.2,552.9L309,555.7M321,612.3L328.7,618M324,632.4L327.9,635.3M324.2,656.4L329.9,648.7M288.4,624L292.3,626.9M325.3,549.8L328.2,546M313.9,565.3L317.8,568.1M305.9,648.9L311.6,641.1M321.6,571L325.5,573.8M310.8,658.4L316.5,650.7M301,639.3L308.7,645M285.8,651.9L293.5,657.6M324.3,543.1L327.2,539.3M296.2,629.7L299,625.9M283.4,590.5L289.1,582.7M297,612.4L304.7,618.1M320.6,564.3L323.5,560.4M320.3,653.6L324.2,656.4M286.4,610.6L290.3,613.5M308.9,531.7L311.7,527.9M298.2,643.2L302,646M318.3,640.1L322.2,643M316.6,537.4L320.4,540.3M306.2,559.6L310.1,562.4M326.5,580.5L332.2,572.8M316.5,650.7L324.2,656.4M317.3,633.4L323,625.7M301.3,550L309,555.7M322.8,601.7L330.5,607.4M281.7,625L289.4,630.7M324.3,543.1L332,548.8M296.8,588.4L302.5,580.7M301.9,622L304.7,618.1M315.3,620L321,612.3M287.4,617.3L291.3,620.2M295.4,533.7L299.3,536.6M297.2,636.4L301,639.3M301.1,526L304,522.2M310.4,610.4L318.1,616.1M307.6,614.3L310.4,610.4M324.7,591.1L327.5,587.3M284.4,597.2L287.2,593.3M298.5,553.9L301.3,550M297.5,547.2L301.3,550M293.8,568.3L299.5,560.6M290.1,589.5L294,592.3M324.3,543.1L328.2,546M318.8,574.8L326.5,580.5M288.7,534.7L294.4,527M294.8,575L297.6,571.2M323,625.7L325.9,621.8M316.1,602.7L321.8,595M290.9,572.2L298.6,577.9M327.7,611.3L330.5,607.4M324,632.4L326.9,628.5M289.3,606.7L295,599M319.6,557.6L325.3,549.8M313.9,565.3L321.6,571M321.5,547L327.2,539.3M301.9,622L307.6,614.3M311.1,569.1L316.8,561.4M310.6,634.4L314.4,637.3M287.7,528L290.6,524.2M299,625.9L306.7,631.6M290.1,589.5L297.8,595.2M314.3,613.3L317.1,609.4M286.4,610.6L289.3,606.7M302,646L309.8,651.7M288.4,624L291.3,620.2M325.9,621.8L333.6,627.5M319.8,581.6L327.5,587.3M322.6,577.7L325.5,573.8M298.3,529.9L306,535.6M289.7,541.5L293.6,544.3M298.8,601.9L302.7,604.7M303.5,587.4L306.4,583.6M305.9,648.9L308.7,645M296.3,653.7L302,646M291.8,554.9L294.6,551M307.6,614.3L311.4,617.1M321.6,571L327.3,563.3M290.4,637.5L294.3,640.3M316.3,626.7L319.1,622.8M303.5,587.4L311.2,593.1M302.9,628.7L305.7,624.9M314.9,572L318.8,574.8M298,619.2L305.7,624.9M310.2,586.4L314.1,589.3M322.3,529.7L325.1,525.8M317.6,544.1L321.5,547M293.8,568.3L296.6,564.4M299.2,649.9L306.9,655.6M298.5,553.9L302.3,556.7M325.3,549.8L329.2,552.7M312.3,599.9L315.1,596M319.3,646.8L323.2,649.7M304.9,642.1L307.7,638.3M313.4,630.6L321.2,636.3M288.7,534.7L291.6,530.9M310.9,545.1L314.7,548M324.7,591.1L330.4,583.4M286.9,545.3L294.6,551M307.2,566.3L311.1,569.1M291.5,644.2L297.2,636.4M287.7,528L293.4,520.3M294.4,527L297.3,523.2M325.5,573.8L331.2,566.1M304.5,594.1L312.3,599.9M306.5,607.6L309.4,603.7M311.9,551.9L315.8,554.7M283.7,638.5L287.6,641.3M306.2,559.6L309,555.7M293.3,633.6L299,625.9M307.4,590.3L315.1,596M297.6,571.2L303.3,563.4M326.3,556.5L330.2,559.4M310.9,545.1L318.6,550.8M314.3,613.3L318.1,616.1M297.8,595.2L303.5,587.4M305.2,552.9L308,549M304.2,546.2L307,542.3M309,555.7L314.7,548M285.2,579.9L290.9,572.2M305.7,624.9L311.4,617.1M288.6,648L296.3,653.7M321.6,571L324.5,567.1M297.2,636.4L304.9,642.1M299.2,649.9L303,652.7M304.5,594.1L307.4,590.3M302.2,532.7L305,528.9M303.2,539.4L307,542.3M302.7,604.7L308.4,597M327,652.5L329.9,648.7M312.7,534.6L320.4,540.3M328.1,659.3L330.9,655.4M293.1,609.6L296,605.7M289.4,630.7L292.3,626.9M288.3,600L294,592.3M291.9,578.9L299.7,584.6M323.8,608.4L331.6,614.1M295.8,581.7L298.6,577.9M282.4,583.8L288.1,576M313.3,606.6L316.1,602.7M326.7,604.5L330.5,607.4M312.6,647.9L315.5,644M301.1,526L305,528.9M288.7,534.7L292.6,537.6M300.5,567.3L303.3,563.4M289.4,630.7L293.3,633.6M299.8,608.6L305.5,600.9M292.3,626.9L298,619.2M297.3,660.4L303,652.7M322.3,529.7L326.2,532.5M311.9,551.9L319.6,557.6M299.8,608.6L302.7,604.7M289.1,582.7L292.9,585.6M300.5,567.3L304.4,570.1M299.3,536.6L307,542.3M313.3,606.6L317.1,609.4M316.6,537.4L322.3,529.7M303.9,635.4L306.7,631.6M299.5,560.6L307.2,566.3M306.7,631.6L312.4,623.9M322.3,529.7L330,535.4M322.6,577.7L328.3,570M318,592.1L321.8,595M295.4,533.7L298.3,529.9M305.5,600.9L308.4,597M292.1,602.9L295,599M312.1,575.9L317.8,568.1M319.3,646.8L322.2,643M298.2,643.2L301,639.3M302.2,532.7L306,535.6M300.8,615.3L306.5,607.6M316.3,626.7L322,619M294.1,616.3L298,619.2M282,535.8L289.7,541.5M302.9,628.7L308.6,621M308.6,621L311.4,617.1M314.4,637.3L322.2,643M293.1,609.6L300.8,615.3M312.3,599.9L318,592.1M289.1,582.7L296.8,588.4M327,652.5L330.9,655.4M326,645.8L328.9,642M293.1,609.6L297,612.4M319.4,533.6L325.1,525.8M289.7,541.5L295.4,533.7M288.1,576L290.9,572.2M317.6,544.1L320.4,540.3M309.4,603.7L317.1,609.4M307.7,638.3L313.4,630.6M301.5,574L304.4,570.1M310.9,545.1L313.7,541.3M326.7,604.5L332.4,596.8M299.8,608.6L303.7,611.4M322.5,553.7L328.2,546M291.5,644.2L294.3,640.3M312.9,558.6L315.8,554.7M301.9,622L305.7,624.9M286.1,562.6L289.9,565.5M286.4,610.6L292.1,602.9M311.2,593.1L314.1,589.3M303.9,635.4L307.7,638.3M292.1,602.9L299.8,608.6M300.2,656.6L304.1,659.4M305.5,600.9L309.4,603.7M309.2,579.7L312.1,575.9M292.1,602.9L296,605.7M284.2,573.2L289.9,565.5M320.2,629.6L325.9,621.8M306.9,655.6L312.6,647.9M294.1,616.3L297,612.4M283.7,638.5L286.6,634.6M294.6,551L300.3,543.3M291.1,596.2L295,599M312.6,647.9L316.5,650.7M312.3,599.9L316.1,602.7M290.7,548.2L296.5,540.4M286.1,562.6L293.8,568.3M291.3,620.2L297,612.4M325.7,597.8L329.5,600.7M308.9,531.7L312.7,534.6M285.4,603.9L291.1,596.2M315.3,620L318.1,616.1M286.6,634.6L294.3,640.3M283.2,566.5L288.9,558.7M298.8,601.9L304.5,594.1M320.8,588.3L328.5,594M297.8,595.2L301.7,598M322,619L324.8,615.1M298.2,643.2L305.9,648.9M324.8,615.1L332.6,620.8M300.8,615.3L304.7,618.1M299.5,560.6L302.3,556.7M306.2,559.6L311.9,551.9M308,549L313.7,541.3M284.7,645.2L288.6,648M303,652.7L310.8,658.4M315.9,578.7L318.8,574.8M306.9,655.6L309.8,651.7M282.9,655.8L288.6,648M295.3,647L301,639.3M291.8,554.9L297.5,547.2M318.6,550.8L322.5,553.7M303.2,539.4L306,535.6M319.3,646.8L325,639.1M311.6,641.1L319.3,646.8M309.2,579.7L313.1,582.6M284.4,597.2L290.1,589.5M323,625.7L326.9,628.5M307.9,525L315.6,530.7M312.9,558.6L316.8,561.4M311.7,527.9L319.4,533.6M308.9,531.7L316.6,537.4M289.9,565.5L297.6,571.2M287.2,593.3L292.9,585.6M315.6,530.7L321.3,523M285.8,651.9L288.6,648M298.6,577.9L304.4,570.1M325,639.1L328.9,642M311.6,641.1L315.5,644M285.4,603.9L288.3,600M307.9,525L311.7,527.9M314.9,572L322.6,577.7M306.5,607.6L314.3,613.3M292.9,585.6L300.7,591.3M295.6,557.7L301.3,550M289.6,654.7L297.3,660.4M283.7,638.5L291.5,644.2M290.1,589.5L292.9,585.6M314.1,589.3L319.8,581.6M323.7,584.4L327.5,587.3M299.7,584.6L305.4,576.9M292.5,650.9L295.3,647M320,605.6L322.8,601.7M305.4,576.9L313.1,582.6M288.1,576L291.9,578.9M315.1,596L320.8,588.3M323.7,584.4L329.4,576.7M319.1,622.8L324.8,615.1M326,645.8L333.8,651.5M310.1,562.4L315.8,554.7M303.2,539.4L308.9,531.7M283,542.5L290.7,548.2M306.9,655.6L310.8,658.4M320.6,564.3L324.5,567.1M291.6,530.9L297.3,523.2M288.1,576L295.8,581.7M294.4,527L302.2,532.7M293.6,544.3L299.3,536.6M296.8,588.4L299.7,584.6M283,542.5L286.9,545.3M324,632.4L331.7,638.1M328.3,570L331.2,566.1M316.9,585.4L320.8,588.3M319,598.8L321.8,595M306,535.6L311.7,527.9M323.3,536.4L327.2,539.3M323.5,560.4L329.2,552.7M285.8,651.9L289.6,654.7M307,542.3L312.7,534.6M318.6,550.8L321.5,547M282.5,607.8L290.3,613.5M290.7,548.2L293.6,544.3M307.2,566.3L312.9,558.6M305,528.9L310.7,521.1M322.6,577.7L326.5,580.5M316.6,537.4L319.4,533.6M294,592.3L301.7,598M304.9,642.1L308.7,645M285,555.9L292.8,561.6M313.7,541.3L321.5,547M320.4,540.3L326.2,532.5M295,599L302.7,604.7M318,592.1L320.8,588.3M322,619L329.7,624.7M311.6,641.1L314.4,637.3M281,529L288.7,534.7M302.2,532.7L307.9,525M303.9,635.4L309.6,627.7M314.9,572L317.8,568.1M282.2,559.8L287.9,552M299.5,560.6L303.3,563.4M302.3,556.7L310.1,562.4M320,605.6L323.8,608.4M319.6,557.6L322.5,553.7M310.2,586.4L315.9,578.7M300.5,567.3L308.2,573M295.8,581.7L299.7,584.6M313.9,565.3L316.8,561.4M295.8,581.7L301.5,574M317.1,609.4L322.8,601.7M308.6,621L312.4,623.9M285,555.9L287.9,552M315.9,578.7L319.8,581.6M318.3,640.1L321.2,636.3M317.3,633.4L321.2,636.3M304.2,546.2L308,549M315.3,620L319.1,622.8M321.3,523L325.1,525.8M311.2,593.1L316.9,585.4M285.4,603.9L289.3,606.7M296.2,629.7L303.9,635.4M296.8,588.4L300.7,591.3M285.6,627.9L293.3,633.6M311.9,551.9L314.7,548M292.8,561.6L296.6,564.4M291.8,554.9L295.6,557.7M306.5,607.6L310.4,610.4M286.2,586.6L291.9,578.9M318.1,616.1L323.8,608.4M308.2,573L312.1,575.9M287.1,569.3L290.9,572.2M310.2,586.4L313.1,582.6M304.2,546.2L309.9,538.4M313.6,654.6L317.5,657.4M327.7,611.3L331.6,614.1M300.8,615.3L303.7,611.4M287.7,528L291.6,530.9M301.5,574L305.4,576.9M321.3,523L329,528.7M315.6,530.7L319.4,533.6M296.5,540.4L299.3,536.6M320.3,653.6L323.2,649.7M313.1,582.6L318.8,574.8M313.6,654.6L321.3,660.3M284.6,621.2L292.3,626.9M309.6,627.7L317.3,633.4M293.5,657.6L299.2,649.9M327.3,563.3L330.2,559.4M302.5,580.7L305.4,576.9M309.9,538.4L317.6,544.1M301.7,598L307.4,590.3M289.7,541.5L292.6,537.6M287.4,617.3L290.3,613.5M309.6,627.7L313.4,630.6M293.5,657.6L296.3,653.7M291.1,596.2L298.8,601.9M290.4,637.5L293.3,633.6M297.2,636.4L300,632.6M296.5,540.4L300.3,543.3M319,598.8L322.8,601.7M287.1,569.3L294.8,575M293.8,568.3L297.6,571.2M296.6,564.4L302.3,556.7M284,549.2L291.8,554.9M317.8,568.1L325.5,573.8M304.5,594.1L308.4,597M312.4,623.9L320.2,629.6M318.6,550.8L324.3,543.1M324.7,591.1L328.5,594M287.6,641.3L295.3,647M299.2,649.9L302,646M313.3,606.6L319,598.8M286.8,658.6L289.6,654.7M316.9,585.4L324.7,591.1M321.8,595L329.5,600.7M296,605.7L303.7,611.4M302.5,580.7L306.4,583.6M300.3,543.3L308,549M327.3,563.3L331.2,566.1M284,549.2L286.9,545.3M310.6,634.4L313.4,630.6M326.3,556.5L329.2,552.7M305.9,648.9L309.8,651.7M294.1,616.3L301.9,622M284.9,531.9L292.6,537.6M292.5,650.9L298.2,643.2M285,555.9L288.9,558.7M314.3,613.3L320,605.6M300.7,591.3L306.4,583.6M322.2,643L327.9,635.3M307.2,566.3L310.1,562.4M323.3,536.4L331,542.1M316.9,585.4L319.8,581.6M325.3,549.8L333,555.5M291.5,644.2L295.3,647M304.9,642.1L310.6,634.4M296.5,540.4L304.2,546.2M285.9,538.6L293.6,544.3M325,639.1L327.9,635.3M308.4,597L316.1,602.7M304.4,570.1L312.1,575.9M295.1,623L299,625.9M300.2,656.6L303,652.7M290.4,637.5L296.2,629.7M284,549.2L287.9,552M312.9,558.6L320.6,564.3M312.6,647.9L320.3,653.6M296.2,629.7L300,632.6M325.1,525.8L332.9,531.5M297.3,523.2L305,528.9M314.6,524L318.4,526.8M286.1,562.6L288.9,558.7M292.8,561.6L298.5,553.9M297.5,547.2L305.2,552.9M315.6,530.7L318.4,526.8M326,645.8L329.9,648.7M318.3,640.1L324,632.4M308.2,573L313.9,565.3M310.6,634.4L318.3,640.1M314.7,548L322.5,553.7M292.6,537.6L298.3,529.9M320.3,653.6L326,645.8M292.8,561.6L295.6,557.7M284.7,645.2L292.5,650.9M287.4,617.3L293.1,609.6M317.3,633.4L320.2,629.6M281.5,601L289.3,606.7M325.7,597.8L328.5,594M289.1,582.7L291.9,578.9M325,639.1L332.7,644.8M302.9,628.7L306.7,631.6M324.5,567.1L330.2,559.4M288.9,558.7L296.6,564.4M301.5,574L309.2,579.7M326.7,604.5L329.5,600.7M287.9,552L295.6,557.7M313.6,654.6L316.5,650.7M323,625.7L330.7,631.4M283.4,590.5L287.2,593.3M309.9,538.4L312.7,534.6M315.9,578.7L323.7,584.4M311.4,617.1L319.1,622.8M308.7,645L314.4,637.3M291.1,596.2L294,592.3M300,632.6L307.7,638.3" style="stroke-width:0.85"/></g><path d="M290.80,531.00 L309.00,652.00 C309.50,652.00 323.50,652.00 324.00,652.00 L324.00,652.00 L308.30,530.00 Z"/>
<ellipse class="wf" cx="299.6" cy="530.4" rx="8.6" ry="4.2" transform="rotate(-6 299.6 530.4)"/>
<path d="M306.50,535.00 L325.80,657.00 C326.30,657.00 342.80,657.00 343.30,657.00 L343.30,657.00 L324.00,535.00 Z" style="fill:#fff;stroke:none"/><g clip-path="url(#hc4)"><path d="M316.1,612.5L321.8,604.7M344.3,573.7L348.2,576.5M343.7,656.3L347.5,659.1M301.7,607.9L307.3,600.2M339.8,588.2L342.6,584.3M341.5,577.6L347.2,569.8M303.4,532.1L306.2,528.2M315.1,605.8L320.7,598M304.8,562.8L312.6,568.4M338.3,557.5L344,549.7M314,533.8L321.7,539.5M307,641.5L312.6,633.7M334.1,595.9L338,598.7M320,615.3L325.7,607.6M302.7,549.3L310.5,555M331.3,534.5L334.1,530.6M306.6,552.2L309.4,548.3M338,533.5L341.9,536.3M314.7,647.1L322.5,652.7M301.7,607.9L305.5,610.8M316.1,612.5L320,615.3M336.2,609.3L344,615M344,615L346.8,611.1M330.6,617.1L336.2,609.3M341.9,666.9L347.5,659.1M337.3,616L345.1,621.7M335.9,650.6L341.5,642.9M317.5,643.2L325.3,648.9M305.9,634.7L308.7,630.9M301,625.2L308.7,630.9M334.1,595.9L336.9,592M338.7,581.5L342.6,584.3M316.8,529.9L320.7,532.8M304.1,580L311.9,585.7M319.3,632.6L325,624.9M297.8,605.1L305.5,610.8M340.8,594.9L346.5,587.1M344.3,573.7L352.1,579.3M319.3,567.3L327.1,573M301.6,542.6L309.4,548.3M310.5,620.3L318.2,625.9M324.2,576.9L328.1,579.7M315.1,605.8L318.9,608.6M329.2,651.7L333.1,654.5M345,556.4L352.8,562M314.7,581.8L320.3,574M344.7,532.4L347.5,528.5M300.6,601.2L304.5,604M307.3,600.2L310.1,596.3M298.5,653.1L304.1,645.3M327.8,555.7L335.5,561.3M308,648.2L310.8,644.3M326.7,549L329.5,545.1M331.3,599.8L336.9,592M343.3,632.3L351.1,637.9M298.8,611.8L306.6,617.5M300.9,559.9L304.8,562.8M346.1,628.4L350,631.2M330.6,551.8L338.3,557.5M328.8,562.4L332.7,565.2M304.5,538.8L308.3,541.6M301.3,649.2L304.1,645.3M300.3,642.5L304.1,645.3M337,657.3L342.6,649.6M325.3,583.6L330.9,575.8M326.4,590.3L329.2,586.4M322.8,611.5L325.7,607.6M321,556.8L326.7,549M317.9,601.9L323.5,594.2M344,549.7L351.8,555.3M299.2,635.8L307,641.5M327.4,531.7L335.2,537.3M317.2,619.2L322.8,611.5M310.8,579L316.5,571.2M346.1,628.4L348.9,624.5M342.2,560.3L350,565.9M308.7,565.6L311.5,561.7M338,598.7L345.8,604.4M347.5,593.8L350.3,589.9M318.6,649.9L326.4,655.6M340.5,570.9L346.1,563.1M336.2,609.3L340.1,612.2M337,657.3L339.8,653.4M342.6,649.6L346.5,652.4M331.3,534.5L335.2,537.3M303.1,638.6L310.8,644.3M343.3,567L351,572.6M316.1,547.2L323.9,552.9M299.2,635.8L302,631.9M314,599.1L317.9,601.9M310.8,579L314.7,581.8M326.7,549L330.6,551.8M342.2,560.3L346.1,563.1M319.7,656.6L327.4,662.3M334.5,554.6L337.3,550.7M323.9,618.2L331.7,623.8M309.4,613.6L313.3,616.4M315.8,653.8L323.5,659.4M342.9,608.3L346.8,611.1M335.9,585.3L343.6,591M342.2,625.6L350,631.2M323.5,528.9L327.4,531.7M311.2,537.7L315,540.5M306.6,552.2L312.2,544.4M328.1,645L332,647.8M322.1,628.7L327.8,621M339.1,605.4L346.8,611.1M332,582.5L339.8,588.2M307.3,600.2L311.2,603M344,615L349.6,607.2M325.3,648.9L331,641.1M345.4,580.4L348.2,576.5M305.5,545.5L309.4,548.3M337.6,574.7L340.5,570.9M338.4,622.7L341.2,618.9M347.9,552.5L350.7,548.6M312.6,633.7L320.4,639.3M309.1,654.9L313,657.7M322.8,611.5L330.6,617.1M323.5,528.9L331.3,534.5M302.7,614.6L306.6,617.5M312.6,568.4L318.2,560.6M318.9,543.3L321.7,539.5M339,540.2L342.9,543M339.8,653.4L345.4,645.7M345.1,621.7L347.9,617.8M322.5,652.7L325.3,648.9M344,615L347.9,617.8M317.2,553.9L324.9,559.6M338,664L340.8,660.1M340.1,546.9L344,549.7M320.4,639.3L326,631.6M335.9,650.6L339.8,653.4M312.2,609.7L320,615.3M300.6,601.2L306.2,593.5M308,648.2L313.7,640.4M324.6,535.6L327.4,531.7M317.5,577.9L321.4,580.8M299.9,553.2L307.6,558.9M299.5,594.5L302.4,590.6M335.2,602.6L338,598.7M328.8,627.7L336.6,633.3M322.1,563.5L326,566.3M323.2,570.2L328.8,562.4M305.5,545.5L311.2,537.7M325,624.9L328.8,627.7M341.2,553.6L345,556.4M306.3,658.7L314,664.4M309.4,613.6L312.2,609.7M309.1,589.6L316.8,595.2M323.9,618.2L326.7,614.3M333.8,637.2L339.4,629.4M336.2,544L341.9,536.3M312.6,633.7L316.5,636.5M312.9,592.4L316.8,595.2M340.5,636.2L343.3,632.3M345.4,580.4L353.2,586M326.4,590.3L332,582.5M299.9,553.2L303.8,556.1M299.9,553.2L302.7,549.3M331.7,623.8L335.5,626.6M300.9,559.9L308.7,565.6M302,566.6L304.8,562.8M303.4,532.1L307.3,534.9M331.6,558.5L339.4,564.2M300.9,559.9L303.8,556.1M308.7,565.6L314.3,557.8M321.4,646L324.2,642.2M343.3,567L347.2,569.8M302,566.6L305.9,569.5M329.5,545.1L337.3,550.7M310.8,579L313.6,575.1M327.4,597L333.1,589.2M329.5,610.4L335.2,602.6M305.2,586.8L309.1,589.6M309.8,572.3L315.4,564.5M300.6,666.5L306.3,658.7M330.9,575.8L333.8,571.9M308.7,565.6L312.6,568.4M343.7,656.3L346.5,652.4M330.2,593.1L335.9,585.3M314,599.1L316.8,595.2M303.8,621.3L309.4,613.6M336.9,526.8L344.7,532.4M304.5,538.8L307.3,534.9M300.3,642.5L303.1,638.6M341.9,536.3L349.6,541.9M309.1,654.9L314.7,647.1M317.5,577.9L320.3,574M310.1,531L317.9,536.6M309.4,613.6L317.2,619.2M316.5,571.2L320.3,574M345.7,539.1L349.6,541.9M334.1,595.9L341.9,601.6M334.5,619.9L340.1,612.2M342.9,543L350.7,548.6M299.6,659.8L305.2,652M327.4,597L331.3,599.8M339.8,588.2L345.4,580.4M328.1,645L335.9,650.6M321.8,604.7L329.5,610.4M311.2,537.7L318.9,543.3M299.5,594.5L303.4,597.3M341.2,553.6L348.9,559.2M321.7,539.5L327.4,531.7M315.4,629.8L323.2,635.4M301.7,607.9L304.5,604M337.3,550.7L342.9,543M302.4,590.6L308,582.9M328.1,645L331,641.1M324.6,535.6L332.3,541.2M345.1,621.7L350.7,613.9M327.1,638.3L334.8,643.9M299.2,635.8L303.1,638.6M306.9,576.2L314.7,581.8M339.8,588.2L343.6,591M315,540.5L322.8,546.2M337.3,616L341.2,618.9M308.3,541.6L314,533.8M332.7,630.5L336.6,633.3M340.8,660.1L346.5,652.4M340.5,636.2L348.2,641.8M328.5,603.7L332.4,606.5M311.9,651L317.5,643.2M346.5,587.1L350.3,589.9M307.7,624.2L313.3,616.4M317.9,536.6L323.5,528.9M323.5,659.4L329.2,651.7M322.8,546.2L328.5,538.4M324.9,559.6L330.6,551.8M330.9,575.8L338.7,581.5M311.5,627L319.3,632.6M320.7,598L323.5,594.2M325.7,607.6L333.4,613.2M306.2,593.5L314,599.1M311.9,585.7L315.8,588.5M338.7,581.5L341.5,577.6M324.6,600.9L332.4,606.5M342.9,608.3L345.8,604.4M313.3,551.1L317.2,553.9M345.7,539.1L348.6,535.2M303.1,573.3L306.9,576.2M308.7,630.9L314.4,623.1M321.8,604.7L324.6,600.9M325,624.9L327.8,621M324.6,535.6L328.5,538.4M298.8,546.5L306.6,552.2M335.2,602.6L339.1,605.4M316.1,612.5L318.9,608.6M312.6,633.7L315.4,629.8M328.5,603.7L334.1,595.9M310.1,531L312.9,527.1M314.7,647.1L318.6,649.9M325.3,583.6L328.1,579.7M340.1,546.9L347.9,552.5M326,631.6L328.8,627.7M317.2,619.2L321.1,622M346.1,628.4L351.8,620.6M311.5,627L315.4,629.8M299.2,570.5L304.8,562.8M309.4,548.3L315,540.5M312.2,544.4L320,550M333.4,547.9L337.3,550.7M325.6,542.3L329.5,545.1M305.9,634.7L311.5,627M327.4,662.3L333.1,654.5M332.7,630.5L335.5,626.6M314,599.1L319.6,591.3M327.1,638.3L331,641.1M328.5,538.4L336.2,544M313.6,575.1L319.3,567.3M329.9,569.1L333.8,571.9M318.9,543.3L324.6,535.6M315.8,653.8L318.6,649.9M302.4,655.9L305.2,652M336.6,568L342.2,560.3M322.8,611.5L326.7,614.3M337.6,574.7L343.3,567M329.9,569.1L332.7,565.2M304.1,645.3L311.9,651M316.5,636.5L324.2,642.2M340.8,529.6L348.6,535.2M345.8,604.4L351.4,596.6M319.6,591.3L322.5,587.5M310.1,596.3L317.9,601.9M329.5,610.4L333.4,613.2M310.1,661.6L315.8,653.8M330.3,658.4L338,664M341.9,601.6L347.5,593.8M330.6,617.1L334.5,619.9M302,631.9L309.8,637.6M314.4,623.1L322.1,628.7M325,624.9L332.7,630.5M339,540.2L341.9,536.3M308,648.2L311.9,651M337.3,616L340.1,612.2M327.8,555.7L331.6,558.5M319.6,591.3L327.4,597M332.3,541.2L335.2,537.3M327.1,638.3L329.9,634.4M307,641.5L309.8,637.6M324.2,576.9L329.9,569.1M334.5,554.6L340.1,546.9M322.5,587.5L330.2,593.1M326,631.6L333.8,637.2M314.3,557.8L318.2,560.6M331.7,623.8L334.5,619.9M333.1,589.2L335.9,585.3M346.5,587.1L349.3,583.2M335.5,561.3L338.3,557.5M302.7,614.6L308.4,606.9M311.5,561.7L317.2,553.9M300.6,601.2L303.4,597.3M338,664L343.7,656.3M329.2,586.4L334.8,578.6M338,533.5L345.7,539.1M313.3,616.4L321.1,622M311.9,585.7L314.7,581.8M337,657.3L340.8,660.1M313.7,640.4L321.4,646M309.1,654.9L311.9,651M317.2,619.2L320,615.3M316.5,571.2L319.3,567.3M326,631.6L329.9,634.4M307.3,600.2L315.1,605.8M327.8,621L335.5,626.6M342.6,649.6L345.4,645.7M319.3,632.6L323.2,635.4M339.4,629.4L342.2,625.6M316.8,595.2L322.5,587.5M332,582.5L334.8,578.6M333.8,637.2L336.6,633.3M303.8,556.1L311.5,561.7M321.4,646L327.1,638.3M313.3,551.1L316.1,547.2M334.8,643.9L338.7,646.7M318.2,560.6L326,566.3M333.8,571.9L341.5,577.6M336.2,609.3L339.1,605.4M335.2,537.3L340.8,529.6M322.1,563.5L327.8,555.7M342.9,608.3L348.6,600.5M340.1,612.2L347.9,617.8M345.1,621.7L348.9,624.5M340.1,546.9L342.9,543M305.2,652L313,657.7M347.2,635.1L351.1,637.9M324.2,642.2L329.9,634.4M318.2,625.9L323.9,618.2M315.4,564.5L319.3,567.3M336.6,568L339.4,564.2M329.9,569.1L337.6,574.7M326.7,549L334.5,554.6M307,641.5L310.8,644.3M324.6,666.2L330.3,658.4M338.4,622.7L346.1,628.4M335.5,561.3L341.2,553.6M303.8,621.3L306.6,617.5M306.6,617.5L312.2,609.7M317.5,577.9L325.3,583.6M334.8,578.6L342.6,584.3M323.5,594.2L331.3,599.8M316.8,660.5L319.7,656.6M332.7,630.5L338.4,622.7M340.8,594.9L343.6,591M315.8,653.8L319.7,656.6M344.7,532.4L348.6,535.2M342.6,649.6L350.4,655.2M332.4,606.5L338,598.7M322.5,652.7L328.1,645M345.4,580.4L349.3,583.2M326.4,655.6L332,647.8M310.5,555L316.1,547.2M338.7,646.7L344.4,639M318.2,625.9L322.1,628.7M342.2,560.3L345,556.4M332,582.5L335.9,585.3M314.3,557.8L322.1,563.5M308.4,606.9L311.2,603M336.6,568L340.5,570.9M315.1,605.8L317.9,601.9M300.6,535.9L308.3,541.6M303.1,573.3L305.9,569.5M298.5,587.8L304.1,580M310.5,620.3L313.3,616.4M342.6,584.3L348.2,576.5M347.2,635.1L350,631.2M344.4,639L352.1,644.6M315.4,564.5L323.2,570.2M320.4,639.3L323.2,635.4M323.9,552.9L329.5,545.1M310.5,620.3L314.4,623.1M323.2,635.4L328.8,627.7M339.4,629.4L347.2,635.1M296.7,598.4L304.5,604M341.9,601.6L344.7,597.7M340.5,636.2L344.4,639M334.8,643.9L340.5,636.2M330.9,575.8L334.8,578.6M310.1,661.6L313,657.7M315.8,588.5L321.4,580.8M320,550L322.8,546.2M298.8,546.5L302.7,549.3M305.5,610.8L311.2,603M311.9,585.7L317.5,577.9M337.7,640L343.3,632.3M341.5,642.9L344.4,639M323.5,659.4L327.4,662.3M343.7,656.3L351.4,661.9M312.2,544.4L315,540.5M345.4,645.7L353.2,651.3M331,641.1L338.7,646.7M335.9,650.6L338.7,646.7M328.8,562.4L331.6,558.5M303.8,621.3L307.7,624.2M318.6,584.6L322.5,587.5M316.5,571.2L324.2,576.9M302.7,614.6L305.5,610.8M315.4,564.5L318.2,560.6M319.3,632.6L322.1,628.7M332.7,565.2L340.5,570.9M328.1,579.7L333.8,571.9M313.3,551.1L321,556.8M318.9,608.6L324.6,600.9M334.5,554.6L338.3,557.5M302,566.6L309.8,572.3M325.6,542.3L328.5,538.4M327.4,597L330.2,593.1M303.1,573.3L310.8,579M308.4,606.9L312.2,609.7M343.3,567L346.1,563.1M305.2,586.8L308,582.9M309.8,637.6L315.4,629.8M341.2,553.6L344,549.7M304.5,538.8L310.1,531M344.7,663L347.5,659.1M318.9,543.3L322.8,546.2M339.4,629.4L343.3,632.3M303.4,662.6L306.3,658.7M302.4,655.9L306.3,658.7M334.8,643.9L337.7,640M310.8,644.3L316.5,636.5M297.1,622.4L304.8,628M300.3,642.5L308,648.2M332.3,541.2L338,533.5M305.5,545.5L308.3,541.6M301.3,649.2L309.1,654.9M314,664.4L319.7,656.6M320.7,598L324.6,600.9M340.8,594.9L344.7,597.7M307.3,534.9L312.9,527.1M326.7,614.3L334.5,619.9M335.5,626.6L341.2,618.9M321,556.8L323.9,552.9M311.2,603L318.9,608.6M329.9,634.4L337.7,640M321.4,580.8L329.2,586.4M328.8,562.4L336.6,568M304.8,628L308.7,630.9M310.1,661.6L314,664.4M314.3,557.8L317.2,553.9M323.2,570.2L326,566.3M325.6,542.3L333.4,547.9M329.5,610.4L332.4,606.5M346.8,545.8L349.6,541.9M306.2,593.5L309.1,589.6M333.4,547.9L339,540.2M311.2,537.7L314,533.8M332,647.8L339.8,653.4M323.9,618.2L327.8,621M307.6,558.9L313.3,551.1M304.8,628L310.5,620.3M321.8,604.7L325.7,607.6M327.8,555.7L330.6,551.8M330.3,658.4L333.1,654.5M346.8,545.8L350.7,548.6M304.5,604L310.1,596.3M333.4,613.2L339.1,605.4M337.6,574.7L341.5,577.6M302.4,655.9L310.1,661.6M333.4,547.9L336.2,544M321,556.8L324.9,559.6M318.6,584.6L321.4,580.8M301.3,649.2L305.2,652M320,550L325.6,542.3M341.5,642.9L345.4,645.7M324.2,576.9L327.1,573M307.6,558.9L311.5,561.7M299.5,529.2L307.3,534.9M314.7,647.1L317.5,643.2M312.9,592.4L315.8,588.5M311.5,627L314.4,623.1M305.9,569.5L313.6,575.1M341.5,642.9L349.3,648.5M308.4,606.9L316.1,612.5M299.9,618.5L307.7,624.2M306.6,552.2L310.5,555M325.3,583.6L329.2,586.4M345.7,539.1L351.4,531.3M331.3,534.5L336.9,526.8M320.4,639.3L324.2,642.2M327.1,573L332.7,565.2M304.1,580L306.9,576.2M332.3,541.2L336.2,544M333.1,589.2L340.8,594.9M313.7,640.4L316.5,636.5M308,582.9L315.8,588.5M330.6,617.1L333.4,613.2M312.2,544.4L316.1,547.2M310.1,531L314,533.8M312.9,527.1L320.7,532.8M326,566.3L331.6,558.5M320,550L323.9,552.9M326.4,590.3L330.2,593.1M299.5,594.5L305.2,586.8M313,657.7L318.6,649.9M329.2,651.7L332,647.8M306.2,593.5L310.1,596.3M304.1,580L308,582.9M330.3,658.4L334.1,661.2M309.8,572.3L312.6,568.4M320.7,598L328.5,603.7M341.9,601.6L345.8,604.4M318.2,625.9L321.1,622M339.4,564.2L345,556.4M344.7,597.7L350.3,589.9M335.5,561.3L339.4,564.2M319.6,591.3L323.5,594.2M336.9,592L344.7,597.7M321.4,646L325.3,648.9M338.4,622.7L342.2,625.6M338,533.5L340.8,529.6M338.7,581.5L344.3,573.7M333.1,654.5L340.8,660.1M317.9,536.6L320.7,532.8M296.7,533.1L304.5,538.8M298.1,563.8L303.8,556.1M318.6,584.6L326.4,590.3M312.9,592.4L318.6,584.6M305.9,634.7L309.8,637.6M323.5,659.4L326.4,655.6M336.6,633.3L342.2,625.6M344.3,573.7L347.2,569.8M313.7,640.4L317.5,643.2M343.6,591L349.3,583.2M321.1,622L326.7,614.3M330.2,527.8L334.1,530.6M301.3,583.9L306.9,576.2M323.2,570.2L327.1,573M320.3,574L328.1,579.7M322.5,652.7L326.4,655.6M300.2,577.2L305.9,569.5M333.1,589.2L336.9,592M331.7,623.8L337.3,616M328.5,603.7L331.3,599.8M309.8,572.3L313.6,575.1M317.9,536.6L321.7,539.5M329.2,651.7L337,657.3M297.8,539.8L305.5,545.5M335.2,602.6L342.9,608.3M303.4,597.3L309.1,589.6M322.1,563.5L324.9,559.6M304.8,628L307.7,624.2M298.1,629.1L305.9,634.7M307.6,558.9L310.5,555M305.2,586.8L312.9,592.4M333.8,637.2L337.7,640M339,540.2L346.8,545.8M316.8,660.5L320.7,663.3M341.2,618.9L348.9,624.5" style="stroke-width:0.85"/></g><path d="M306.50,535.00 L325.80,657.00 C326.30,657.00 342.80,657.00 343.30,657.00 L343.30,657.00 L324.00,535.00 Z"/>
<ellipse class="wf" cx="315.3" cy="535.3" rx="8.6" ry="4.2" transform="rotate(-6 315.3 535.3)"/>
<path d="M309.6,653.5 C314,651.5 320,651.5 324.4,653 L324.6,659.5 C320,661.5 314,661.5 310.2,660 Z" class="wf"/>
<path d="M312.5,660.5 L327,660 L327.6,675 L313,675.5 Z" class="wf"/>
<path d="M313,675.5 C318,678.5 324,678 327.6,675" class="br"/>
<path d="M308.5,680.4 L313,675 L325,673.9 L328.9,678.9 L329,689.5 L324.4,696.8 L318,697.8 L309.5,691 Z" class="wf"/>
<path d="M308.5,680.4 L317,686.9 L324.9,685.9 L328.9,678.9 M317,686.9 L318,697.8 M324.9,685.9 L324.4,696.8 M313,677.5 C316,681 324,681 327.3,677"/>
<path d="M325.4,659.5 C330,657.5 338,657 343.9,658.5 L344.2,667 C338,669.5 331,669.5 326,668 Z" class="wf"/>
<path d="M328,668.2 L344.4,667.5 L345,681.5 L329,682.5 Z" class="wf"/>
<path d="M324.9,687.4 L332.9,680.9 L347.9,679.4 L351.8,682.4 L351.8,695.8 L346.9,702.8 L334.4,705.3 L325.4,699.8 Z" class="wf"/>
<path d="M324.9,687.4 L333.4,693.8 L346.9,691.9 L351.8,682.4 M333.4,693.8 L334.4,705.3 M346.9,691.9 L346.9,702.8 M329.5,683.5 C333,687 342,687 345.5,682"/>
<line x1="297.6" y1="515.5" x2="299.5" y2="532.8" style="stroke-width:0.85"/>
<line x1="313.6" y1="521.5" x2="315.5" y2="538.8" style="stroke-width:0.85"/>
<line x1="295.70" y1="654.40" x2="312.10" y2="663.30"/>
<line x1="351.70" y1="687.30" x2="371.40" y2="698.40"/>
<line x1="337.50" y1="704.50" x2="337.50" y2="723.00"/>
<path d="M222.2,242 L138.7,291 C133,294 127.5,298 125.5,301.5 C124.6,303.5 124.5,305 124.6,306"/>
<path d="M124.6,305.5 C126,309.5 129,311.2 132.5,312.8 L150,322.5 C155,325.5 159,328 163,329.5 C166,330.5 168,330.7 171,330.7 L178,330.4 C183,330 186.5,327.8 190,325.6 L300,261.3"/>
<path d="M124.6,305 C124.4,311 126,315 130,317.8 L143,324.6 L158,332 C162,334.5 165,336.5 168.5,337.5 C171.5,338.3 175,338.6 178,338.5 C182,338.4 185.5,337.8 188.4,337.1 L198,331.6 L262.1,294.4"/>
<path d="M139.6,323.4 C138.2,326.5 138.2,330.5 140.5,333.5 C143,336.8 148,339.5 153,341.2 C157,342.5 162,344 167.5,344.6 L179.3,344.8 L179.3,339.8"/>
<path d="M167.5,344.6 L167.8,340.2"/>
<line x1="243.70" y1="304.60" x2="243.70" y2="377.50"/>
<line x1="322.30" y1="198.50" x2="322.30" y2="227.50"/>
<path d="M321.3,233.5 L322.3,236.2 L322.3,374.5"/>
<path d="M300,261.3 C305,259.5 310,256.5 314,253 C318,249.5 321,246 322.3,242"/>
<path d="M245.5,238.8 C249,246 258,252.5 270,255.3 C279,257.3 290,257.6 300,254.6 C306,252.8 311,250 314.5,246 C318,242 320.3,237.5 321.3,233.5 C321.8,231.5 322.3,229.5 322.3,227"/>
<path d="M253.3,236.8 C253.5,240 255,240.8 256.6,240.8 C258.5,240.8 260,239.5 260,236.4"/>
<path d="M166.5,213.2 C162.4,211 161.8,206.3 167,205 L223,193.6 C231,192 238,188.5 245,184.8 C251,181.5 254,178.6 259,176.3 C264,173.6 268,172.3 273,171.7 C280,170.6 287,170.4 293,171 C301,171.8 306,174 310,176.3 C316,179.6 320.5,185 322.2,190.5 C323,193.5 323,196.5 322.3,199 C320.5,202 318.5,204 316.6,205.3 C314.5,206.8 312.5,208.3 310,209.6 L295.6,217.3 C291,219.5 288,221.5 284.3,222.9 C280,224.3 276,225.2 273,225.7 L240,232.6 C231,234.6 224,236.6 217,237.2 C210,237.6 205,235.5 199,232.2 Z" class="wf"/>
<path d="M289.5,226.4 C275,229.6 255,233.5 235,238 C226,240.2 218,241.8 211,241.2 C206,240.7 202,238 196,234.6 L186.6,229.6 L170,221 C166,219 163,216 162.4,210.5"/>
<ellipse cx="283.1" cy="380.6" rx="38.6" ry="21.7" class="wf" />
<ellipse cx="283.1" cy="379.2" rx="38.6" ry="21.7" class="wf" />
<ellipse cx="283.3" cy="381.0" rx="31.6" ry="18.8" class="da" />
<line x1="275.00" y1="384.70" x2="291.60" y2="375.10"/>
<line x1="275.00" y1="375.10" x2="291.60" y2="384.70"/>
<line x1="310.40" y1="34.30" x2="310.40" y2="178.50"/>
<line x1="310.4" y1="178.5" x2="310.4" y2="363.7" class="da" style="stroke-dashoffset:1.9"/>
<line x1="143.50" y1="132.30" x2="143.50" y2="319.20"/>
<line x1="144.60" y1="139.40" x2="310.10" y2="44.90"/>
<path class="ah" d="M310.10,44.90 L302.13,53.30 L302.13,45.70 Z"/>
<path class="ah" d="M144.60,139.40 L152.57,138.60 L152.57,131.00 Z"/>
<line x1="181.60" y1="222.60" x2="302.30" y2="153.60"/>
<line x1="317.80" y1="144.50" x2="454.00" y2="65.80"/>
<line x1="446.50" y1="70.40" x2="446.50" y2="624.00"/>
<path class="ah" d="M446.50,70.40 L449.79,78.10 L443.21,81.90 Z"/>
<path class="ah" d="M446.50,285.80 L449.79,274.30 L443.21,278.10 Z"/>
<path class="ah" d="M446.50,285.80 L449.79,293.50 L443.21,297.30 Z"/>
<path class="ah" d="M446.50,624.00 L449.79,612.50 L443.21,616.30 Z"/>
<line x1="107.40" y1="482.50" x2="253.50" y2="397.75"/>
<line x1="310.60" y1="364.62" x2="454.00" y2="281.44"/>
<line x1="350.50" y1="681.00" x2="454.00" y2="621.20"/>
<line x1="110.40" y1="367.40" x2="110.40" y2="478.00"/>
<path class="ah" d="M110.40,367.40 L113.69,375.10 L107.11,378.90 Z"/>
<path class="ah" d="M110.40,478.00 L113.69,466.50 L107.11,470.30 Z"/>
<line x1="102.90" y1="370.80" x2="152.50" y2="341.60"/>
<line x1="152.80" y1="342.00" x2="152.80" y2="427.20"/>
<line x1="153.20" y1="419.10" x2="283.30" y2="345.60"/>
<path class="ah" d="M153.20,419.10 L161.17,418.30 L161.17,410.70 Z"/>
<path class="ah" d="M283.30,345.60 L275.33,354.00 L275.33,346.40 Z"/>
<line x1="283.30" y1="340.10" x2="283.30" y2="379.90"/>
<line x1="141.60" y1="373.20" x2="151.60" y2="343.30"/>
<path d="M133.6,365.6 C137,367 141,367.4 145,367.2 C150,366.8 155,365 160,362.3 L168.9,353.3"/>
<path class="ah" d="M143.20,366.90 L135.57,362.76 L133.92,369.35 Z"/>
<path class="ah" d="M153.40,364.90 L162.13,357.89 L159.88,364.31 Z"/>
<line x1="310.70" y1="363.70" x2="398.50" y2="415.20"/>
<line x1="311.50" y1="370.00" x2="370.60" y2="405.20"/>
<line x1="258.00" y1="391.30" x2="325.80" y2="430.50"/>
<line x1="300.00" y1="422.30" x2="343.30" y2="447.30"/>
<line x1="321.20" y1="427.00" x2="413.00" y2="373.50"/>
<path class="ah" d="M321.20,427.00 L332.63,424.00 L326.40,420.40 Z"/>
<path class="ah" d="M365.20,401.30 L360.00,407.90 L353.77,404.30 Z"/>
<line x1="338.60" y1="443.80" x2="436.20" y2="389.80"/>
<path class="ah" d="M338.60,443.80 L350.03,440.80 L343.80,437.20 Z"/>
<path class="ah" d="M392.50,412.60 L387.30,419.20 L381.07,415.60 Z"/>
<g transform="matrix(1.4614,-0.8438,0.0000,1.2500,211.70,83.80)" style="stroke-width:1.15"><path class="gl" style="stroke-width:1.15" transform="translate(0.00,0)" d="M0.6,2.4 L3.2,0 L3.2,10 M0.4,10 L6,10"/><path class="gl" style="stroke-width:1.15" transform="translate(8.65,0)" d="M0.4,1.6 C1,0.4 2,0 3,0 C4.8,0 5.7,1 5.7,2.5 C5.7,4 4.4,4.9 2.6,4.9 C4.8,4.9 6,6 6,7.4 C6,9 4.8,10 3,10 C1.6,10 0.5,9.4 0,8.3"/><path class="gl" style="stroke-width:1.15" transform="translate(17.30,0)" d="M0.4,1.6 C1,0.4 2,0 3,0 C4.8,0 5.7,1 5.7,2.5 C5.7,4 4.4,4.9 2.6,4.9 C4.8,4.9 6,6 6,7.4 C6,9 4.8,10 3,10 C1.6,10 0.5,9.4 0,8.3"/></g>
<g transform="matrix(1.3510,-0.7800,0.0000,1.2000,204.20,373.00)" style="stroke-width:1.15"><path class="gl" style="stroke-width:1.15" transform="translate(0.00,0)" d="M0.6,2.4 L3.2,0 L3.2,10 M0.4,10 L6,10"/><path class="gl" style="stroke-width:1.15" transform="translate(9.49,0)" d="M3,0 C0.2,0 0,3.2 0,5 C0,6.8 0.2,10 3,10 C5.8,10 6,6.8 6,5 C6,3.2 5.8,0 3,0 Z"/><path class="gl" style="stroke-width:1.15" transform="translate(18.97,0)" d="M3,0 C0.2,0 0,3.2 0,5 C0,6.8 0.2,10 3,10 C5.8,10 6,6.8 6,5 C6,3.2 5.8,0 3,0 Z"/></g>
<g transform="matrix(1.2990,-0.7500,0.0000,1.2000,166.00,362.00)" style="stroke-width:1.15"><path class="gl" style="stroke-width:1.15" transform="translate(0.00,0)" d="M0.3,2.4 C0.7,0.8 1.7,0 3,0 C4.7,0 5.8,1.1 5.8,2.7 C5.8,4 5,5 3.6,6.1 L0,10 L6.2,10"/><path class="gl" style="stroke-width:1.15" transform="translate(9.60,0)" d="M5.6,0 L1.1,0 L0.6,4.4 C1.3,3.8 2.2,3.5 3.1,3.5 C4.9,3.5 6,4.8 6,6.7 C6,8.7 4.8,10 3,10 C1.6,10 0.6,9.4 0,8.3"/><path class="gl" style="stroke-width:1.15" transform="translate(18.00,-1.5)" d="M2,0 C0.9,0 0,0.9 0,2 C0,3.1 0.9,4 2,4 C3.1,4 4,3.1 4,2 C4,0.9 3.1,0 2,0 Z"/></g>
<g transform="matrix(0.0000,-1.3200,1.0392,-0.6000,431.91,196.00)" style="stroke-width:1.15"><path class="gl" style="stroke-width:1.15" transform="translate(0.00,0)" d="M0.6,2.4 L3.2,0 L3.2,10 M0.4,10 L6,10"/><path class="gl" style="stroke-width:1.15" transform="translate(7.77,0)" d="M4.6,10 L4.6,0 L0,7 L6.2,7"/><path class="gl" style="stroke-width:1.15" transform="translate(15.53,0)" d="M5.9,3 C5.9,1.2 4.7,0 3,0 C1.2,0 0,1.3 0,3.1 C0,4.9 1.2,6.1 3,6.1 C4.7,6.1 5.9,4.9 5.9,3 L5.9,6.5 C5.9,8.8 4.7,10 2.9,10 C1.6,10 0.6,9.4 0.2,8.4"/></g>
<g transform="matrix(0.0000,-1.3200,1.0392,-0.6000,432.91,481.60)" style="stroke-width:1.15"><path class="gl" style="stroke-width:1.15" transform="translate(0.00,0)" d="M4.6,10 L4.6,0 L0,7 L6.2,7"/><path class="gl" style="stroke-width:1.15" transform="translate(7.95,0)" d="M3,0 C0.2,0 0,3.2 0,5 C0,6.8 0.2,10 3,10 C5.8,10 6,6.8 6,5 C6,3.2 5.8,0 3,0 Z"/><path class="gl" style="stroke-width:1.15" transform="translate(15.91,0)" d="M3,0 C0.2,0 0,3.2 0,5 C0,6.8 0.2,10 3,10 C5.8,10 6,6.8 6,5 C6,3.2 5.8,0 3,0 Z"/></g>
<g transform="matrix(0.0000,-1.3800,1.0392,-0.6000,95.61,436.60)" style="stroke-width:1.15"><path class="gl" style="stroke-width:1.15" transform="translate(0.00,0)" d="M0,0 L6,0 L1.8,10"/><path class="gl" style="stroke-width:1.15" transform="translate(7.68,0)" d="M5.9,3 C5.9,1.2 4.7,0 3,0 C1.2,0 0,1.3 0,3.1 C0,4.9 1.2,6.1 3,6.1 C4.7,6.1 5.9,4.9 5.9,3 L5.9,6.5 C5.9,8.8 4.7,10 2.9,10 C1.6,10 0.6,9.4 0.2,8.4"/></g>
<g transform="matrix(1.3445,-0.7762,0.9959,0.5750,370.64,378.55)" style="stroke-width:1.15"><path class="gl" style="stroke-width:1.15" transform="translate(0.00,0)" d="M3.2,2.4 C1.2,2.4 0,3.8 0,6.2 C0,8.6 1.2,10 3.2,10 C5.2,10 6.4,8.6 6.4,6.2 C6.4,3.8 5.2,2.4 3.2,2.4 Z M-0.4,10.8 L6.8,1.6"/><path class="gl" style="stroke-width:1.15" transform="translate(9.40,0)" d="M0.4,1.6 C1,0.4 2,0 3,0 C4.8,0 5.7,1 5.7,2.5 C5.7,4 4.4,4.9 2.6,4.9 C4.8,4.9 6,6 6,7.4 C6,9 4.8,10 3,10 C1.6,10 0.5,9.4 0,8.3"/><path class="gl" style="stroke-width:1.15" transform="translate(18.55,0)" d="M3,4.8 C1.4,4.8 0.4,3.8 0.4,2.4 C0.4,1 1.4,0 3,0 C4.6,0 5.6,1 5.6,2.4 C5.6,3.8 4.6,4.8 3,4.8 C1.2,4.8 0,5.9 0,7.4 C0,9 1.2,10 3,10 C4.8,10 6,9 6,7.4 C6,5.9 4.8,4.8 3,4.8 Z"/></g>
<g transform="matrix(1.3445,-0.7762,0.9959,0.5750,395.94,393.75)" style="stroke-width:1.15"><path class="gl" style="stroke-width:1.15" transform="translate(0.00,0)" d="M3.2,2.4 C1.2,2.4 0,3.8 0,6.2 C0,8.6 1.2,10 3.2,10 C5.2,10 6.4,8.6 6.4,6.2 C6.4,3.8 5.2,2.4 3.2,2.4 Z M-0.4,10.8 L6.8,1.6"/><path class="gl" style="stroke-width:1.15" transform="translate(9.40,0)" d="M4.6,10 L4.6,0 L0,7 L6.2,7"/><path class="gl" style="stroke-width:1.15" transform="translate(18.55,0)" d="M4.6,10 L4.6,0 L0,7 L6.2,7"/></g>
<g transform="matrix(1.4635,0.8450,0.0000,1.3000,283.20,643.00)" style="stroke-width:1.15"><path class="gl" style="stroke-width:1.15" transform="translate(0.00,0)" d="M0,10 L3.2,0 L6.4,10 M1.1,6.6 L5.3,6.6"/></g>
<g transform="matrix(1.1951,0.6900,0.0000,1.2000,378.40,697.20)" style="stroke-width:1.15"><path class="gl" style="stroke-width:1.15" transform="translate(0.00,0)" d="M0,10 L0,0 L3.4,0 C5,0 5.8,1 5.8,2.4 C5.8,3.9 4.9,4.8 3.3,4.8 L0,4.8 M3.3,4.8 C5.1,4.8 6.2,5.8 6.2,7.4 C6.2,9 5.2,10 3.5,10 L0,10"/></g>
<g transform="matrix(1.2384,0.7150,0.0000,1.3000,325.80,726.50)" style="stroke-width:1.15"><path class="gl" style="stroke-width:1.15" transform="translate(0.00,0)" d="M6,2 C5.4,0.7 4.4,0 3.2,0 C1.2,0 0,2 0,5 C0,8 1.2,10 3.2,10 C4.4,10 5.4,9.5 6.2,8.6 L6.2,5.6 L3.4,5.6"/><path class="gl" style="stroke-width:1.15" transform="translate(7.90,0)" d="M0.4,1.6 C1,0.4 2,0 3,0 C4.8,0 5.7,1 5.7,2.5 C5.7,4 4.4,4.9 2.6,4.9 C4.8,4.9 6,6 6,7.4 C6,9 4.8,10 3,10 C1.6,10 0.5,9.4 0,8.3"/><path class="gl" style="stroke-width:1.15" transform="translate(15.03,0)" d="M-0.3,11 L4.6,-0.8"/><path class="gl" style="stroke-width:1.15" transform="translate(21.89,0)" d="M3,4.8 C1.4,4.8 0.4,3.8 0.4,2.4 C0.4,1 1.4,0 3,0 C4.6,0 5.6,1 5.6,2.4 C5.6,3.8 4.6,4.8 3,4.8 C1.2,4.8 0,5.9 0,7.4 C0,9 1.2,10 3,10 C4.8,10 6,9 6,7.4 C6,5.9 4.8,4.8 3,4.8 Z"/></g>
</svg>
</body></html>
